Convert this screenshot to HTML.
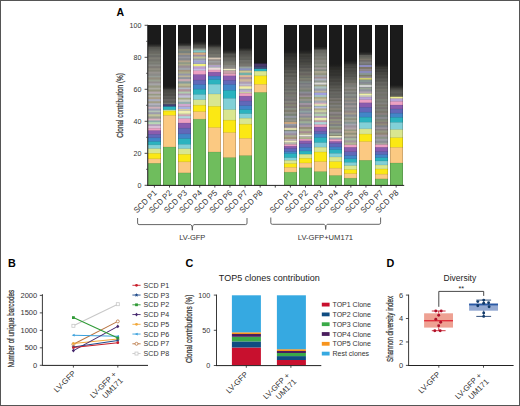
<!DOCTYPE html>
<html><head><meta charset="utf-8"><style>
html,body{margin:0;padding:0;background:#fff;}
body{width:520px;height:406px;overflow:hidden;}
svg{display:block;font-family:"Liberation Sans", sans-serif;}
</style></head><body>
<svg width="520" height="406" viewBox="0 0 520 406">
<defs><linearGradient id="fadeK" x1="0" y1="0" x2="0" y2="1"><stop offset="0" stop-color="#1b1b1b" stop-opacity="0.85"/><stop offset="1" stop-color="#1b1b1b" stop-opacity="0"/></linearGradient></defs>
<rect x="0" y="0" width="520" height="406" fill="#fff"/>
<g>
<rect x="0" y="0" width="520" height="406" fill="#fff"/>
<text x="116.5" y="16.3" font-size="10.5" text-anchor="start" fill="#000" font-weight="bold" >A</text>
<g>
<rect x="148.00" y="25.00" width="13" height="160.30" fill="#1b1b1b"/>
<rect x="148.00" y="44.10" width="13" height="141.20" fill="#3b3b37"/>
<rect x="148.00" y="45.59" width="13" height="139.71" fill="#444440"/>
<rect x="148.00" y="47.23" width="13" height="138.07" fill="#575752"/>
<rect x="148.00" y="48.96" width="13" height="136.34" fill="#5c5d57"/>
<rect x="148.00" y="50.50" width="13" height="134.80" fill="#676761"/>
<rect x="148.00" y="52.01" width="13" height="133.29" fill="#696861"/>
<rect x="148.00" y="53.70" width="13" height="131.60" fill="#76776f"/>
<rect x="148.00" y="55.16" width="13" height="130.14" fill="#6c6c68"/>
<rect x="148.00" y="57.23" width="13" height="128.07" fill="#7e7d75"/>
<rect x="148.00" y="59.35" width="13" height="125.95" fill="#74746d"/>
<rect x="148.00" y="61.39" width="13" height="123.91" fill="#7e8077"/>
<rect x="148.00" y="63.00" width="13" height="122.30" fill="#7a7b74"/>
<rect x="148.00" y="64.48" width="13" height="120.82" fill="#8b8b86"/>
<rect x="148.00" y="66.20" width="13" height="119.10" fill="#7e7a75"/>
<rect x="148.00" y="68.21" width="13" height="117.09" fill="#8f8c81"/>
<rect x="148.00" y="70.11" width="13" height="115.19" fill="#838377"/>
<rect x="148.00" y="71.58" width="13" height="113.72" fill="#97938f"/>
<rect x="148.00" y="73.58" width="13" height="111.72" fill="#8b8b88"/>
<rect x="148.00" y="75.81" width="13" height="109.49" fill="#959c96"/>
<rect x="148.00" y="77.35" width="13" height="107.95" fill="#928c7e"/>
<rect x="148.00" y="79.57" width="13" height="105.73" fill="#9aa293"/>
<rect x="148.00" y="81.52" width="13" height="103.78" fill="#948e8e"/>
<rect x="148.00" y="83.31" width="13" height="101.99" fill="#a6a6a8"/>
<rect x="148.00" y="85.43" width="13" height="99.87" fill="#959782"/>
<rect x="148.00" y="87.69" width="13" height="97.61" fill="#acaca3"/>
<rect x="148.00" y="89.56" width="13" height="95.74" fill="#94947d"/>
<rect x="148.00" y="91.58" width="13" height="93.72" fill="#b5a9ae"/>
<rect x="148.00" y="93.80" width="13" height="91.50" fill="#969981"/>
<rect x="148.00" y="95.43" width="13" height="89.87" fill="#b1b1a8"/>
<rect x="148.00" y="97.23" width="13" height="88.07" fill="#aa9c86"/>
<rect x="148.00" y="99.16" width="13" height="86.14" fill="#abaebe"/>
<rect x="148.00" y="101.25" width="13" height="84.05" fill="#a29d86"/>
<rect x="148.00" y="103.27" width="13" height="82.03" fill="#b2b2be"/>
<rect x="148.00" y="105.14" width="13" height="80.16" fill="#9a9da6"/>
<rect x="148.00" y="106.82" width="13" height="78.48" fill="#cfb0b8"/>
<rect x="148.00" y="108.65" width="13" height="76.65" fill="#999db2"/>
<rect x="148.00" y="110.58" width="13" height="74.72" fill="#b5c4b6"/>
<rect x="148.00" y="112.23" width="13" height="73.07" fill="#9c9cab"/>
<rect x="148.00" y="114.29" width="13" height="71.01" fill="#c0c49b"/>
<rect x="148.00" y="116.39" width="13" height="68.91" fill="#9e9e96"/>
<rect x="148.00" y="118.65" width="13" height="66.65" fill="#ddb4c2"/>
<rect x="148.00" y="120.47" width="13" height="64.83" fill="#8eabad"/>
<rect x="148.00" y="122.15" width="13" height="63.15" fill="#b9d7b6"/>
<rect x="148.00" y="124.23" width="13" height="61.07" fill="#b29cbb"/>
<rect x="148.00" y="125.94" width="13" height="59.36" fill="#d8bdd5"/>
<rect x="148.00" y="128.30" width="13" height="57.00" fill="#eda0c3"/>
<rect x="148.00" y="130.50" width="13" height="54.80" fill="#8a5cae"/>
<rect x="148.00" y="134.30" width="13" height="51.00" fill="#6168b9"/>
<rect x="148.00" y="137.80" width="13" height="47.50" fill="#4286c8"/>
<rect x="148.00" y="141.50" width="13" height="43.80" fill="#2bb3bf"/>
<rect x="148.00" y="144.80" width="13" height="40.50" fill="#82d0d7"/>
<rect x="148.00" y="148.60" width="13" height="36.70" fill="#d9e690"/>
<rect x="148.00" y="153.30" width="13" height="32.00" fill="#fbe814"/>
<rect x="148.00" y="158.80" width="13" height="26.50" fill="#fbc982"/>
<rect x="148.00" y="163.30" width="13" height="22.00" fill="#6fbd5d"/>
<rect x="148.00" y="43.90" width="13" height="3.2" fill="url(#fadeK)"/>
<rect x="148.00" y="163.00" width="13" height="0.6" fill="#000" fill-opacity="0.15"/>
<rect x="148.00" y="158.50" width="13" height="0.6" fill="#000" fill-opacity="0.15"/>
<rect x="148.00" y="153.00" width="13" height="0.6" fill="#000" fill-opacity="0.15"/>
<rect x="148.00" y="148.30" width="13" height="0.6" fill="#000" fill-opacity="0.15"/>
<rect x="148.00" y="144.50" width="13" height="0.6" fill="#000" fill-opacity="0.15"/>
<rect x="148.00" y="141.20" width="13" height="0.6" fill="#000" fill-opacity="0.15"/>
<rect x="148.00" y="137.50" width="13" height="0.6" fill="#000" fill-opacity="0.15"/>
<rect x="148.00" y="134.00" width="13" height="0.6" fill="#000" fill-opacity="0.15"/>
<rect x="148.00" y="130.20" width="13" height="0.6" fill="#000" fill-opacity="0.15"/>
<rect x="148.00" y="128.00" width="13" height="0.6" fill="#000" fill-opacity="0.15"/>
<rect x="148" y="25.00" width="1" height="160.30" fill="#000" fill-opacity="0.16"/>
<rect x="160" y="25.00" width="1" height="160.30" fill="#000" fill-opacity="0.16"/>
</g>
<g>
<rect x="163.00" y="25.00" width="13" height="160.30" fill="#1b1b1b"/>
<rect x="163.00" y="86.80" width="13" height="98.50" fill="#2e2e2b"/>
<rect x="163.00" y="87.86" width="13" height="97.44" fill="#343431"/>
<rect x="163.00" y="89.37" width="13" height="95.93" fill="#484743"/>
<rect x="163.00" y="90.61" width="13" height="94.69" fill="#4a4a45"/>
<rect x="163.00" y="92.50" width="13" height="92.80" fill="#51514c"/>
<rect x="163.00" y="94.16" width="13" height="91.14" fill="#4e4d48"/>
<rect x="163.00" y="95.84" width="13" height="89.46" fill="#5b5b57"/>
<rect x="163.00" y="97.49" width="13" height="87.81" fill="#555451"/>
<rect x="163.00" y="98.99" width="13" height="86.31" fill="#656360"/>
<rect x="163.00" y="101.00" width="13" height="84.30" fill="#5c5e58"/>
<rect x="163.00" y="102.78" width="13" height="82.52" fill="#707271"/>
<rect x="163.00" y="104.40" width="13" height="80.90" fill="#404078"/>
<rect x="163.00" y="106.50" width="13" height="78.80" fill="#2bb3bf"/>
<rect x="163.00" y="109.80" width="13" height="75.50" fill="#d9e690"/>
<rect x="163.00" y="111.00" width="13" height="74.30" fill="#fbe814"/>
<rect x="163.00" y="115.30" width="13" height="70.00" fill="#fbc982"/>
<rect x="163.00" y="147.00" width="13" height="38.30" fill="#6fbd5d"/>
<rect x="163.00" y="86.60" width="13" height="3.2" fill="url(#fadeK)"/>
<rect x="163.00" y="146.70" width="13" height="0.6" fill="#000" fill-opacity="0.15"/>
<rect x="163.00" y="115.00" width="13" height="0.6" fill="#000" fill-opacity="0.15"/>
<rect x="163.00" y="110.70" width="13" height="0.6" fill="#000" fill-opacity="0.15"/>
<rect x="163.00" y="109.50" width="13" height="0.6" fill="#000" fill-opacity="0.15"/>
<rect x="163.00" y="106.20" width="13" height="0.6" fill="#000" fill-opacity="0.15"/>
<rect x="163.00" y="104.10" width="13" height="0.6" fill="#000" fill-opacity="0.15"/>
<rect x="163" y="25.00" width="1" height="160.30" fill="#000" fill-opacity="0.16"/>
<rect x="175" y="25.00" width="1" height="160.30" fill="#000" fill-opacity="0.16"/>
</g>
<g>
<rect x="178.00" y="25.00" width="13" height="160.30" fill="#1b1b1b"/>
<rect x="178.00" y="43.50" width="13" height="141.80" fill="#42423e"/>
<rect x="178.00" y="44.88" width="13" height="140.42" fill="#4d4d49"/>
<rect x="178.00" y="46.08" width="13" height="139.22" fill="#60615c"/>
<rect x="178.00" y="47.44" width="13" height="137.86" fill="#706e6b"/>
<rect x="178.00" y="49.10" width="13" height="136.20" fill="#848577"/>
<rect x="178.00" y="50.99" width="13" height="134.31" fill="#77817d"/>
<rect x="178.00" y="53.12" width="13" height="132.18" fill="#9f9582"/>
<rect x="178.00" y="54.99" width="13" height="130.31" fill="#83858e"/>
<rect x="178.00" y="56.65" width="13" height="128.65" fill="#96969c"/>
<rect x="178.00" y="58.16" width="13" height="127.14" fill="#85878c"/>
<rect x="178.00" y="60.41" width="13" height="124.89" fill="#b3a38c"/>
<rect x="178.00" y="62.33" width="13" height="122.97" fill="#8b9886"/>
<rect x="178.00" y="63.86" width="13" height="121.44" fill="#a8a889"/>
<rect x="178.00" y="65.51" width="13" height="119.79" fill="#998d94"/>
<rect x="178.00" y="67.78" width="13" height="117.52" fill="#a0a3ab"/>
<rect x="178.00" y="69.93" width="13" height="115.37" fill="#a0917b"/>
<rect x="178.00" y="71.50" width="13" height="113.80" fill="#aaaa8a"/>
<rect x="178.00" y="73.60" width="13" height="111.70" fill="#9396a7"/>
<rect x="178.00" y="75.51" width="13" height="109.79" fill="#bbb398"/>
<rect x="178.00" y="77.15" width="13" height="108.15" fill="#90939c"/>
<rect x="178.00" y="79.08" width="13" height="106.22" fill="#c8aab2"/>
<rect x="178.00" y="81.35" width="13" height="103.95" fill="#869b9b"/>
<rect x="178.00" y="83.54" width="13" height="101.76" fill="#b9b993"/>
<rect x="178.00" y="85.77" width="13" height="99.53" fill="#a69e85"/>
<rect x="178.00" y="87.53" width="13" height="97.77" fill="#b3b8c6"/>
<rect x="178.00" y="89.21" width="13" height="96.09" fill="#b0939c"/>
<rect x="178.00" y="91.55" width="13" height="93.75" fill="#b3ccaf"/>
<rect x="178.00" y="93.51" width="13" height="91.79" fill="#ad9bb3"/>
<rect x="178.00" y="95.33" width="13" height="89.97" fill="#c1c1d6"/>
<rect x="178.00" y="97.72" width="13" height="87.58" fill="#a4a984"/>
<rect x="178.00" y="99.51" width="13" height="85.79" fill="#c9c9bf"/>
<rect x="178.00" y="101.77" width="13" height="83.53" fill="#91afb1"/>
<rect x="178.00" y="103.89" width="13" height="81.41" fill="#d0d09d"/>
<rect x="178.00" y="105.94" width="13" height="79.36" fill="#b19bb9"/>
<rect x="178.00" y="108.27" width="13" height="77.03" fill="#d4c8a1"/>
<rect x="178.00" y="110.45" width="13" height="74.85" fill="#a3a3ba"/>
<rect x="178.00" y="112.66" width="13" height="72.64" fill="#cfd5a1"/>
<rect x="178.00" y="114.42" width="13" height="70.88" fill="#cca1b1"/>
<rect x="178.00" y="116.23" width="13" height="69.07" fill="#add7dd"/>
<rect x="178.00" y="118.50" width="13" height="66.80" fill="#eda0c3"/>
<rect x="178.00" y="123.00" width="13" height="62.30" fill="#8a5cae"/>
<rect x="178.00" y="128.20" width="13" height="57.10" fill="#6168b9"/>
<rect x="178.00" y="133.90" width="13" height="51.40" fill="#4286c8"/>
<rect x="178.00" y="138.60" width="13" height="46.70" fill="#2bb3bf"/>
<rect x="178.00" y="144.30" width="13" height="41.00" fill="#82d0d7"/>
<rect x="178.00" y="148.70" width="13" height="36.60" fill="#d9e690"/>
<rect x="178.00" y="154.30" width="13" height="31.00" fill="#fbe814"/>
<rect x="178.00" y="161.80" width="13" height="23.50" fill="#fbc982"/>
<rect x="178.00" y="172.90" width="13" height="12.40" fill="#6fbd5d"/>
<rect x="178.00" y="110.75" width="13" height="2.50" fill="#f0f0b0"/>
<rect x="178.00" y="104.00" width="13" height="2.00" fill="#d0a8d0"/>
<rect x="178.00" y="107.00" width="13" height="2.00" fill="#a8b0e0"/>
<rect x="178.00" y="43.30" width="13" height="3.2" fill="url(#fadeK)"/>
<rect x="178.00" y="172.60" width="13" height="0.6" fill="#000" fill-opacity="0.15"/>
<rect x="178.00" y="161.50" width="13" height="0.6" fill="#000" fill-opacity="0.15"/>
<rect x="178.00" y="154.00" width="13" height="0.6" fill="#000" fill-opacity="0.15"/>
<rect x="178.00" y="148.40" width="13" height="0.6" fill="#000" fill-opacity="0.15"/>
<rect x="178.00" y="144.00" width="13" height="0.6" fill="#000" fill-opacity="0.15"/>
<rect x="178.00" y="138.30" width="13" height="0.6" fill="#000" fill-opacity="0.15"/>
<rect x="178.00" y="133.60" width="13" height="0.6" fill="#000" fill-opacity="0.15"/>
<rect x="178.00" y="127.90" width="13" height="0.6" fill="#000" fill-opacity="0.15"/>
<rect x="178.00" y="122.70" width="13" height="0.6" fill="#000" fill-opacity="0.15"/>
<rect x="178.00" y="118.20" width="13" height="0.6" fill="#000" fill-opacity="0.15"/>
<rect x="178" y="25.00" width="1" height="160.30" fill="#000" fill-opacity="0.16"/>
<rect x="190" y="25.00" width="1" height="160.30" fill="#000" fill-opacity="0.16"/>
</g>
<g>
<rect x="193.00" y="25.00" width="13" height="160.30" fill="#1b1b1b"/>
<rect x="193.00" y="41.80" width="13" height="143.50" fill="#383835"/>
<rect x="193.00" y="43.30" width="13" height="142.00" fill="#3e3e3a"/>
<rect x="193.00" y="44.74" width="13" height="140.56" fill="#4f4f4a"/>
<rect x="193.00" y="46.57" width="13" height="138.73" fill="#5e5e59"/>
<rect x="193.00" y="48.53" width="13" height="136.77" fill="#949b91"/>
<rect x="193.00" y="50.68" width="13" height="134.62" fill="#8d8d86"/>
<rect x="193.00" y="52.60" width="13" height="132.70" fill="#a1b59d"/>
<rect x="193.00" y="54.50" width="13" height="130.80" fill="#9d8da2"/>
<rect x="193.00" y="56.54" width="13" height="128.76" fill="#bbc098"/>
<rect x="193.00" y="58.48" width="13" height="126.82" fill="#979ba9"/>
<rect x="193.00" y="60.46" width="13" height="124.84" fill="#b6d3b3"/>
<rect x="193.00" y="62.32" width="13" height="122.98" fill="#999ebc"/>
<rect x="193.00" y="64.63" width="13" height="120.67" fill="#d8bce3"/>
<rect x="193.00" y="66.68" width="13" height="118.62" fill="#a8ad83"/>
<rect x="193.00" y="68.74" width="13" height="116.56" fill="#c9d0ea"/>
<rect x="193.00" y="70.50" width="13" height="114.80" fill="#eda0c3"/>
<rect x="193.00" y="74.50" width="13" height="110.80" fill="#8a5cae"/>
<rect x="193.00" y="80.10" width="13" height="105.20" fill="#6168b9"/>
<rect x="193.00" y="84.50" width="13" height="100.80" fill="#4286c8"/>
<rect x="193.00" y="89.20" width="13" height="96.10" fill="#2bb3bf"/>
<rect x="193.00" y="94.40" width="13" height="90.90" fill="#82d0d7"/>
<rect x="193.00" y="99.70" width="13" height="85.60" fill="#d9e690"/>
<rect x="193.00" y="105.20" width="13" height="80.10" fill="#fbe814"/>
<rect x="193.00" y="111.60" width="13" height="73.70" fill="#fbc982"/>
<rect x="193.00" y="119.20" width="13" height="66.10" fill="#6fbd5d"/>
<rect x="193.00" y="64.00" width="13" height="2.00" fill="#f0f080"/>
<rect x="193.00" y="67.20" width="13" height="2.20" fill="#c0a0d8"/>
<rect x="193.00" y="60.50" width="13" height="2.00" fill="#a0a0d8"/>
<rect x="193.00" y="52.90" width="13" height="1.80" fill="#d8a880"/>
<rect x="193.00" y="50.40" width="13" height="1.80" fill="#80c8c8"/>
<rect x="193.00" y="41.60" width="13" height="3.2" fill="url(#fadeK)"/>
<rect x="193.00" y="118.90" width="13" height="0.6" fill="#000" fill-opacity="0.15"/>
<rect x="193.00" y="111.30" width="13" height="0.6" fill="#000" fill-opacity="0.15"/>
<rect x="193.00" y="104.90" width="13" height="0.6" fill="#000" fill-opacity="0.15"/>
<rect x="193.00" y="99.40" width="13" height="0.6" fill="#000" fill-opacity="0.15"/>
<rect x="193.00" y="94.10" width="13" height="0.6" fill="#000" fill-opacity="0.15"/>
<rect x="193.00" y="88.90" width="13" height="0.6" fill="#000" fill-opacity="0.15"/>
<rect x="193.00" y="84.20" width="13" height="0.6" fill="#000" fill-opacity="0.15"/>
<rect x="193.00" y="79.80" width="13" height="0.6" fill="#000" fill-opacity="0.15"/>
<rect x="193.00" y="74.20" width="13" height="0.6" fill="#000" fill-opacity="0.15"/>
<rect x="193.00" y="70.20" width="13" height="0.6" fill="#000" fill-opacity="0.15"/>
<rect x="193" y="25.00" width="1" height="160.30" fill="#000" fill-opacity="0.16"/>
<rect x="205" y="25.00" width="1" height="160.30" fill="#000" fill-opacity="0.16"/>
</g>
<g>
<rect x="208.00" y="25.00" width="13" height="160.30" fill="#1b1b1b"/>
<rect x="208.00" y="44.70" width="13" height="140.60" fill="#41413d"/>
<rect x="208.00" y="45.69" width="13" height="139.61" fill="#494944"/>
<rect x="208.00" y="47.50" width="13" height="137.80" fill="#595953"/>
<rect x="208.00" y="48.94" width="13" height="136.36" fill="#5e5f59"/>
<rect x="208.00" y="50.40" width="13" height="134.90" fill="#686861"/>
<rect x="208.00" y="52.43" width="13" height="132.87" fill="#676762"/>
<rect x="208.00" y="54.15" width="13" height="131.15" fill="#77776f"/>
<rect x="208.00" y="55.80" width="13" height="129.50" fill="#71716c"/>
<rect x="208.00" y="57.42" width="13" height="127.88" fill="#898a7f"/>
<rect x="208.00" y="59.08" width="13" height="126.22" fill="#928b87"/>
<rect x="208.00" y="60.89" width="13" height="124.41" fill="#9d9f9f"/>
<rect x="208.00" y="62.54" width="13" height="122.76" fill="#958f8e"/>
<rect x="208.00" y="64.75" width="13" height="120.55" fill="#b3b59e"/>
<rect x="208.00" y="66.50" width="13" height="118.80" fill="#a4b5b1"/>
<rect x="208.00" y="68.26" width="13" height="117.04" fill="#d4d4b5"/>
<rect x="208.00" y="70.00" width="13" height="115.30" fill="#eda0c3"/>
<rect x="208.00" y="72.10" width="13" height="113.20" fill="#8a5cae"/>
<rect x="208.00" y="76.10" width="13" height="109.20" fill="#4286c8"/>
<rect x="208.00" y="79.50" width="13" height="105.80" fill="#2bb3bf"/>
<rect x="208.00" y="84.20" width="13" height="101.10" fill="#82d0d7"/>
<rect x="208.00" y="94.00" width="13" height="91.30" fill="#d9e690"/>
<rect x="208.00" y="106.30" width="13" height="79.00" fill="#fbe814"/>
<rect x="208.00" y="127.50" width="13" height="57.80" fill="#fbc982"/>
<rect x="208.00" y="152.00" width="13" height="33.30" fill="#6fbd5d"/>
<rect x="208.00" y="67.70" width="13" height="2.20" fill="#f0d8dc"/>
<rect x="208.00" y="57.70" width="13" height="1.60" fill="#d8c8b8"/>
<rect x="208.00" y="65.10" width="13" height="1.80" fill="#b0a0c8"/>
<rect x="208.00" y="44.50" width="13" height="3.2" fill="url(#fadeK)"/>
<rect x="208.00" y="151.70" width="13" height="0.6" fill="#000" fill-opacity="0.15"/>
<rect x="208.00" y="127.20" width="13" height="0.6" fill="#000" fill-opacity="0.15"/>
<rect x="208.00" y="106.00" width="13" height="0.6" fill="#000" fill-opacity="0.15"/>
<rect x="208.00" y="93.70" width="13" height="0.6" fill="#000" fill-opacity="0.15"/>
<rect x="208.00" y="83.90" width="13" height="0.6" fill="#000" fill-opacity="0.15"/>
<rect x="208.00" y="79.20" width="13" height="0.6" fill="#000" fill-opacity="0.15"/>
<rect x="208.00" y="75.80" width="13" height="0.6" fill="#000" fill-opacity="0.15"/>
<rect x="208.00" y="71.80" width="13" height="0.6" fill="#000" fill-opacity="0.15"/>
<rect x="208.00" y="69.70" width="13" height="0.6" fill="#000" fill-opacity="0.15"/>
<rect x="208" y="25.00" width="1" height="160.30" fill="#000" fill-opacity="0.16"/>
<rect x="220" y="25.00" width="1" height="160.30" fill="#000" fill-opacity="0.16"/>
</g>
<g>
<rect x="223.00" y="25.00" width="13" height="160.30" fill="#1b1b1b"/>
<rect x="223.00" y="50.60" width="13" height="134.70" fill="#3b3b37"/>
<rect x="223.00" y="52.56" width="13" height="132.74" fill="#40403c"/>
<rect x="223.00" y="53.75" width="13" height="131.55" fill="#54544f"/>
<rect x="223.00" y="55.64" width="13" height="129.66" fill="#51514c"/>
<rect x="223.00" y="57.33" width="13" height="127.97" fill="#64635d"/>
<rect x="223.00" y="59.36" width="13" height="125.94" fill="#666661"/>
<rect x="223.00" y="61.32" width="13" height="123.98" fill="#75766e"/>
<rect x="223.00" y="63.14" width="13" height="122.16" fill="#7b7a71"/>
<rect x="223.00" y="65.01" width="13" height="120.29" fill="#888883"/>
<rect x="223.00" y="67.13" width="13" height="118.17" fill="#938d88"/>
<rect x="223.00" y="68.67" width="13" height="116.63" fill="#a1a899"/>
<rect x="223.00" y="70.60" width="13" height="114.70" fill="#c8a0a8"/>
<rect x="223.00" y="73.90" width="13" height="111.40" fill="#eda0c3"/>
<rect x="223.00" y="75.80" width="13" height="109.50" fill="#8a5cae"/>
<rect x="223.00" y="80.30" width="13" height="105.00" fill="#6168b9"/>
<rect x="223.00" y="84.50" width="13" height="100.80" fill="#4286c8"/>
<rect x="223.00" y="90.30" width="13" height="95.00" fill="#2bb3bf"/>
<rect x="223.00" y="98.30" width="13" height="87.00" fill="#82d0d7"/>
<rect x="223.00" y="109.60" width="13" height="75.70" fill="#d9e690"/>
<rect x="223.00" y="120.20" width="13" height="65.10" fill="#fbe814"/>
<rect x="223.00" y="132.50" width="13" height="52.80" fill="#fbc982"/>
<rect x="223.00" y="157.60" width="13" height="27.70" fill="#6fbd5d"/>
<rect x="223.00" y="68.90" width="13" height="1.40" fill="#f0ecc8"/>
<rect x="223.00" y="50.40" width="13" height="3.2" fill="url(#fadeK)"/>
<rect x="223.00" y="157.30" width="13" height="0.6" fill="#000" fill-opacity="0.15"/>
<rect x="223.00" y="132.20" width="13" height="0.6" fill="#000" fill-opacity="0.15"/>
<rect x="223.00" y="119.90" width="13" height="0.6" fill="#000" fill-opacity="0.15"/>
<rect x="223.00" y="109.30" width="13" height="0.6" fill="#000" fill-opacity="0.15"/>
<rect x="223.00" y="98.00" width="13" height="0.6" fill="#000" fill-opacity="0.15"/>
<rect x="223.00" y="90.00" width="13" height="0.6" fill="#000" fill-opacity="0.15"/>
<rect x="223.00" y="84.20" width="13" height="0.6" fill="#000" fill-opacity="0.15"/>
<rect x="223.00" y="80.00" width="13" height="0.6" fill="#000" fill-opacity="0.15"/>
<rect x="223.00" y="75.50" width="13" height="0.6" fill="#000" fill-opacity="0.15"/>
<rect x="223.00" y="73.60" width="13" height="0.6" fill="#000" fill-opacity="0.15"/>
<rect x="223.00" y="70.30" width="13" height="0.6" fill="#000" fill-opacity="0.15"/>
<rect x="223" y="25.00" width="1" height="160.30" fill="#000" fill-opacity="0.16"/>
<rect x="235" y="25.00" width="1" height="160.30" fill="#000" fill-opacity="0.16"/>
</g>
<g>
<rect x="239.00" y="25.00" width="13" height="160.30" fill="#1b1b1b"/>
<rect x="239.00" y="48.20" width="13" height="137.10" fill="#3b3b37"/>
<rect x="239.00" y="49.43" width="13" height="135.87" fill="#40403c"/>
<rect x="239.00" y="51.30" width="13" height="134.00" fill="#4a4a46"/>
<rect x="239.00" y="52.68" width="13" height="132.62" fill="#4d4c48"/>
<rect x="239.00" y="54.32" width="13" height="130.98" fill="#565651"/>
<rect x="239.00" y="55.74" width="13" height="129.56" fill="#5a5a54"/>
<rect x="239.00" y="57.17" width="13" height="128.13" fill="#62625c"/>
<rect x="239.00" y="58.50" width="13" height="126.80" fill="#5d5e58"/>
<rect x="239.00" y="60.06" width="13" height="125.24" fill="#70706b"/>
<rect x="239.00" y="61.40" width="13" height="123.90" fill="#6b6a65"/>
<rect x="239.00" y="63.46" width="13" height="121.84" fill="#767670"/>
<rect x="239.00" y="64.82" width="13" height="120.48" fill="#787570"/>
<rect x="239.00" y="66.58" width="13" height="118.72" fill="#96a29e"/>
<rect x="239.00" y="68.54" width="13" height="116.76" fill="#9e9e80"/>
<rect x="239.00" y="70.79" width="13" height="114.51" fill="#a9b6a9"/>
<rect x="239.00" y="72.71" width="13" height="112.59" fill="#999c7f"/>
<rect x="239.00" y="74.95" width="13" height="110.35" fill="#b3b7c3"/>
<rect x="239.00" y="76.87" width="13" height="108.43" fill="#b1969d"/>
<rect x="239.00" y="79.23" width="13" height="106.07" fill="#ceb899"/>
<rect x="239.00" y="81.60" width="13" height="103.70" fill="#ae9db2"/>
<rect x="239.00" y="83.73" width="13" height="101.57" fill="#bfbfd0"/>
<rect x="239.00" y="85.56" width="13" height="99.74" fill="#b698a1"/>
<rect x="239.00" y="87.63" width="13" height="97.67" fill="#b8bdda"/>
<rect x="239.00" y="89.31" width="13" height="95.99" fill="#9aa79b"/>
<rect x="239.00" y="91.22" width="13" height="94.08" fill="#cbd1a3"/>
<rect x="239.00" y="93.20" width="13" height="92.10" fill="#eda0c3"/>
<rect x="239.00" y="96.10" width="13" height="89.20" fill="#8a5cae"/>
<rect x="239.00" y="101.00" width="13" height="84.30" fill="#6168b9"/>
<rect x="239.00" y="105.60" width="13" height="79.70" fill="#4286c8"/>
<rect x="239.00" y="109.60" width="13" height="75.70" fill="#2bb3bf"/>
<rect x="239.00" y="113.60" width="13" height="71.70" fill="#82d0d7"/>
<rect x="239.00" y="118.20" width="13" height="67.10" fill="#d9e690"/>
<rect x="239.00" y="124.20" width="13" height="61.10" fill="#fbe814"/>
<rect x="239.00" y="138.30" width="13" height="47.00" fill="#fbc982"/>
<rect x="239.00" y="155.60" width="13" height="29.70" fill="#6fbd5d"/>
<rect x="239.00" y="68.30" width="13" height="2.00" fill="#8890c0"/>
<rect x="239.00" y="70.85" width="13" height="1.50" fill="#d0c890"/>
<rect x="239.00" y="73.00" width="13" height="2.00" fill="#70b0a8"/>
<rect x="239.00" y="75.40" width="13" height="1.60" fill="#e0b890"/>
<rect x="239.00" y="86.30" width="13" height="2.40" fill="#f0f0a0"/>
<rect x="239.00" y="90.20" width="13" height="1.60" fill="#c0b0d8"/>
<rect x="239.00" y="48.00" width="13" height="3.2" fill="url(#fadeK)"/>
<rect x="239.00" y="155.30" width="13" height="0.6" fill="#000" fill-opacity="0.15"/>
<rect x="239.00" y="138.00" width="13" height="0.6" fill="#000" fill-opacity="0.15"/>
<rect x="239.00" y="123.90" width="13" height="0.6" fill="#000" fill-opacity="0.15"/>
<rect x="239.00" y="117.90" width="13" height="0.6" fill="#000" fill-opacity="0.15"/>
<rect x="239.00" y="113.30" width="13" height="0.6" fill="#000" fill-opacity="0.15"/>
<rect x="239.00" y="109.30" width="13" height="0.6" fill="#000" fill-opacity="0.15"/>
<rect x="239.00" y="105.30" width="13" height="0.6" fill="#000" fill-opacity="0.15"/>
<rect x="239.00" y="100.70" width="13" height="0.6" fill="#000" fill-opacity="0.15"/>
<rect x="239.00" y="95.80" width="13" height="0.6" fill="#000" fill-opacity="0.15"/>
<rect x="239.00" y="92.90" width="13" height="0.6" fill="#000" fill-opacity="0.15"/>
<rect x="239" y="25.00" width="1" height="160.30" fill="#000" fill-opacity="0.16"/>
<rect x="251" y="25.00" width="1" height="160.30" fill="#000" fill-opacity="0.16"/>
</g>
<g>
<rect x="254.00" y="25.00" width="13" height="160.30" fill="#1b1b1b"/>
<rect x="254.00" y="63.50" width="13" height="121.80" fill="#483868"/>
<rect x="254.00" y="66.40" width="13" height="118.90" fill="#404878"/>
<rect x="254.00" y="68.80" width="13" height="116.50" fill="#2bb3bf"/>
<rect x="254.00" y="71.10" width="13" height="114.20" fill="#d9e690"/>
<rect x="254.00" y="75.80" width="13" height="109.50" fill="#fbe814"/>
<rect x="254.00" y="84.30" width="13" height="101.00" fill="#fbc982"/>
<rect x="254.00" y="92.40" width="13" height="92.90" fill="#6fbd5d"/>
<rect x="254.00" y="92.10" width="13" height="0.6" fill="#000" fill-opacity="0.15"/>
<rect x="254.00" y="84.00" width="13" height="0.6" fill="#000" fill-opacity="0.15"/>
<rect x="254.00" y="75.50" width="13" height="0.6" fill="#000" fill-opacity="0.15"/>
<rect x="254.00" y="70.80" width="13" height="0.6" fill="#000" fill-opacity="0.15"/>
<rect x="254.00" y="68.50" width="13" height="0.6" fill="#000" fill-opacity="0.15"/>
<rect x="254.00" y="66.10" width="13" height="0.6" fill="#000" fill-opacity="0.15"/>
<rect x="254.00" y="63.20" width="13" height="0.6" fill="#000" fill-opacity="0.15"/>
<rect x="254" y="25.00" width="1" height="160.30" fill="#000" fill-opacity="0.16"/>
<rect x="266" y="25.00" width="1" height="160.30" fill="#000" fill-opacity="0.16"/>
</g>
<g>
<rect x="284.00" y="25.00" width="13" height="160.30" fill="#1b1b1b"/>
<rect x="284.00" y="51.20" width="13" height="134.10" fill="#252523"/>
<rect x="284.00" y="52.06" width="13" height="133.24" fill="#252523"/>
<rect x="284.00" y="53.30" width="13" height="132.00" fill="#2f2f2c"/>
<rect x="284.00" y="54.82" width="13" height="130.48" fill="#2d2d2b"/>
<rect x="284.00" y="56.53" width="13" height="128.77" fill="#353532"/>
<rect x="284.00" y="58.38" width="13" height="126.92" fill="#373734"/>
<rect x="284.00" y="59.94" width="13" height="125.36" fill="#40403c"/>
<rect x="284.00" y="61.70" width="13" height="123.60" fill="#3e3e3b"/>
<rect x="284.00" y="63.44" width="13" height="121.86" fill="#474743"/>
<rect x="284.00" y="64.92" width="13" height="120.38" fill="#43433f"/>
<rect x="284.00" y="66.55" width="13" height="118.75" fill="#4b4b47"/>
<rect x="284.00" y="67.94" width="13" height="117.36" fill="#4e4d49"/>
<rect x="284.00" y="69.82" width="13" height="115.48" fill="#575751"/>
<rect x="284.00" y="71.78" width="13" height="113.52" fill="#50504b"/>
<rect x="284.00" y="73.20" width="13" height="112.10" fill="#61615a"/>
<rect x="284.00" y="74.98" width="13" height="110.32" fill="#585852"/>
<rect x="284.00" y="76.87" width="13" height="108.43" fill="#63635e"/>
<rect x="284.00" y="78.78" width="13" height="106.52" fill="#62625c"/>
<rect x="284.00" y="80.39" width="13" height="104.91" fill="#6c6c68"/>
<rect x="284.00" y="82.21" width="13" height="103.09" fill="#65635e"/>
<rect x="284.00" y="83.83" width="13" height="101.47" fill="#6f6f66"/>
<rect x="284.00" y="85.68" width="13" height="99.62" fill="#696966"/>
<rect x="284.00" y="87.63" width="13" height="97.67" fill="#73736f"/>
<rect x="284.00" y="89.16" width="13" height="96.14" fill="#676964"/>
<rect x="284.00" y="90.56" width="13" height="94.74" fill="#797c73"/>
<rect x="284.00" y="92.21" width="13" height="93.09" fill="#706d6b"/>
<rect x="284.00" y="94.29" width="13" height="91.01" fill="#7b7b70"/>
<rect x="284.00" y="95.67" width="13" height="89.63" fill="#737772"/>
<rect x="284.00" y="97.19" width="13" height="88.11" fill="#7c7978"/>
<rect x="284.00" y="98.92" width="13" height="86.38" fill="#727271"/>
<rect x="284.00" y="100.84" width="13" height="84.46" fill="#85857d"/>
<rect x="284.00" y="102.76" width="13" height="82.54" fill="#7b7371"/>
<rect x="284.00" y="104.22" width="13" height="81.08" fill="#858575"/>
<rect x="284.00" y="106.10" width="13" height="79.20" fill="#7d7878"/>
<rect x="284.00" y="107.98" width="13" height="77.32" fill="#8a9086"/>
<rect x="284.00" y="109.88" width="13" height="75.42" fill="#807d6f"/>
<rect x="284.00" y="112.00" width="13" height="73.30" fill="#8f8f88"/>
<rect x="284.00" y="113.82" width="13" height="71.48" fill="#798274"/>
<rect x="284.00" y="115.83" width="13" height="69.47" fill="#9497a0"/>
<rect x="284.00" y="117.90" width="13" height="67.40" fill="#828980"/>
<rect x="284.00" y="119.43" width="13" height="65.87" fill="#94948c"/>
<rect x="284.00" y="121.58" width="13" height="63.72" fill="#85856e"/>
<rect x="284.00" y="123.41" width="13" height="61.89" fill="#989ba8"/>
<rect x="284.00" y="125.42" width="13" height="59.88" fill="#8a8a92"/>
<rect x="284.00" y="127.35" width="13" height="57.95" fill="#af989d"/>
<rect x="284.00" y="129.58" width="13" height="55.72" fill="#818e7c"/>
<rect x="284.00" y="131.17" width="13" height="54.13" fill="#a1a5b6"/>
<rect x="284.00" y="133.32" width="13" height="51.98" fill="#9b8e9d"/>
<rect x="284.00" y="135.29" width="13" height="50.01" fill="#aaad8e"/>
<rect x="284.00" y="136.94" width="13" height="48.36" fill="#a3937c"/>
<rect x="284.00" y="138.97" width="13" height="46.33" fill="#baaab5"/>
<rect x="284.00" y="140.57" width="13" height="44.73" fill="#9f9982"/>
<rect x="284.00" y="142.25" width="13" height="43.05" fill="#b3b3aa"/>
<rect x="284.00" y="144.40" width="13" height="40.90" fill="#eda0c3"/>
<rect x="284.00" y="146.20" width="13" height="39.10" fill="#8a5cae"/>
<rect x="284.00" y="148.50" width="13" height="36.80" fill="#6168b9"/>
<rect x="284.00" y="151.50" width="13" height="33.80" fill="#4286c8"/>
<rect x="284.00" y="153.50" width="13" height="31.80" fill="#2bb3bf"/>
<rect x="284.00" y="157.60" width="13" height="27.70" fill="#82d0d7"/>
<rect x="284.00" y="160.30" width="13" height="25.00" fill="#d9e690"/>
<rect x="284.00" y="163.60" width="13" height="21.70" fill="#fbe814"/>
<rect x="284.00" y="167.30" width="13" height="18.00" fill="#fbc982"/>
<rect x="284.00" y="172.20" width="13" height="13.10" fill="#6fbd5d"/>
<rect x="284.00" y="140.70" width="13" height="1.60" fill="#ecebc0"/>
<rect x="284.00" y="128.20" width="13" height="1.60" fill="#e8e8b0"/>
<rect x="284.00" y="122.10" width="13" height="1.80" fill="#d0a880"/>
<rect x="284.00" y="51.00" width="13" height="3.2" fill="url(#fadeK)"/>
<rect x="284.00" y="171.90" width="13" height="0.6" fill="#000" fill-opacity="0.15"/>
<rect x="284.00" y="167.00" width="13" height="0.6" fill="#000" fill-opacity="0.15"/>
<rect x="284.00" y="163.30" width="13" height="0.6" fill="#000" fill-opacity="0.15"/>
<rect x="284.00" y="160.00" width="13" height="0.6" fill="#000" fill-opacity="0.15"/>
<rect x="284.00" y="157.30" width="13" height="0.6" fill="#000" fill-opacity="0.15"/>
<rect x="284.00" y="153.20" width="13" height="0.6" fill="#000" fill-opacity="0.15"/>
<rect x="284.00" y="151.20" width="13" height="0.6" fill="#000" fill-opacity="0.15"/>
<rect x="284.00" y="148.20" width="13" height="0.6" fill="#000" fill-opacity="0.15"/>
<rect x="284.00" y="145.90" width="13" height="0.6" fill="#000" fill-opacity="0.15"/>
<rect x="284.00" y="144.10" width="13" height="0.6" fill="#000" fill-opacity="0.15"/>
<rect x="284" y="25.00" width="1" height="160.30" fill="#000" fill-opacity="0.16"/>
<rect x="296" y="25.00" width="1" height="160.30" fill="#000" fill-opacity="0.16"/>
</g>
<g>
<rect x="299.00" y="25.00" width="13" height="160.30" fill="#1b1b1b"/>
<rect x="299.00" y="50.60" width="13" height="134.70" fill="#2c2c2a"/>
<rect x="299.00" y="52.35" width="13" height="132.95" fill="#2d2d2a"/>
<rect x="299.00" y="53.75" width="13" height="131.55" fill="#3b3b37"/>
<rect x="299.00" y="55.45" width="13" height="129.85" fill="#393935"/>
<rect x="299.00" y="56.94" width="13" height="128.36" fill="#3e3e3a"/>
<rect x="299.00" y="58.13" width="13" height="127.17" fill="#3e3e3b"/>
<rect x="299.00" y="59.29" width="13" height="126.01" fill="#454541"/>
<rect x="299.00" y="60.55" width="13" height="124.75" fill="#40403d"/>
<rect x="299.00" y="62.39" width="13" height="122.91" fill="#4a4a45"/>
<rect x="299.00" y="63.69" width="13" height="121.61" fill="#4b4a46"/>
<rect x="299.00" y="64.95" width="13" height="120.35" fill="#52524d"/>
<rect x="299.00" y="66.32" width="13" height="118.98" fill="#50504d"/>
<rect x="299.00" y="67.91" width="13" height="117.39" fill="#605f5a"/>
<rect x="299.00" y="69.71" width="13" height="115.59" fill="#5a5a57"/>
<rect x="299.00" y="71.50" width="13" height="113.80" fill="#6d6d66"/>
<rect x="299.00" y="73.32" width="13" height="111.98" fill="#686360"/>
<rect x="299.00" y="75.34" width="13" height="109.96" fill="#757568"/>
<rect x="299.00" y="76.74" width="13" height="108.56" fill="#6a6e67"/>
<rect x="299.00" y="78.15" width="13" height="107.15" fill="#808171"/>
<rect x="299.00" y="79.55" width="13" height="105.75" fill="#74746d"/>
<rect x="299.00" y="81.31" width="13" height="103.99" fill="#7d8783"/>
<rect x="299.00" y="82.93" width="13" height="102.37" fill="#76787e"/>
<rect x="299.00" y="84.34" width="13" height="100.96" fill="#858588"/>
<rect x="299.00" y="86.05" width="13" height="99.25" fill="#7c7e80"/>
<rect x="299.00" y="87.70" width="13" height="97.60" fill="#888881"/>
<rect x="299.00" y="89.65" width="13" height="95.65" fill="#778173"/>
<rect x="299.00" y="91.56" width="13" height="93.74" fill="#8a8c96"/>
<rect x="299.00" y="93.49" width="13" height="91.81" fill="#817881"/>
<rect x="299.00" y="95.52" width="13" height="89.78" fill="#9b9196"/>
<rect x="299.00" y="97.04" width="13" height="88.26" fill="#838670"/>
<rect x="299.00" y="98.90" width="13" height="86.40" fill="#93938b"/>
<rect x="299.00" y="100.95" width="13" height="84.35" fill="#7d8c8b"/>
<rect x="299.00" y="103.07" width="13" height="82.23" fill="#a396a5"/>
<rect x="299.00" y="104.84" width="13" height="80.46" fill="#8b8187"/>
<rect x="299.00" y="107.05" width="13" height="78.25" fill="#9a9d82"/>
<rect x="299.00" y="108.63" width="13" height="76.67" fill="#888a91"/>
<rect x="299.00" y="110.76" width="13" height="74.54" fill="#8ea2a0"/>
<rect x="299.00" y="112.56" width="13" height="72.74" fill="#888b9b"/>
<rect x="299.00" y="114.13" width="13" height="71.17" fill="#a799a3"/>
<rect x="299.00" y="115.73" width="13" height="69.57" fill="#898993"/>
<rect x="299.00" y="117.61" width="13" height="67.69" fill="#a0a386"/>
<rect x="299.00" y="119.41" width="13" height="65.89" fill="#8f8f87"/>
<rect x="299.00" y="121.22" width="13" height="64.08" fill="#9cae97"/>
<rect x="299.00" y="123.41" width="13" height="61.89" fill="#8c90a2"/>
<rect x="299.00" y="125.21" width="13" height="60.09" fill="#ac9ca7"/>
<rect x="299.00" y="127.01" width="13" height="58.29" fill="#948e78"/>
<rect x="299.00" y="128.96" width="13" height="56.34" fill="#abae8d"/>
<rect x="299.00" y="131.26" width="13" height="54.04" fill="#a48a91"/>
<rect x="299.00" y="133.23" width="13" height="52.07" fill="#b2b28c"/>
<rect x="299.00" y="134.86" width="13" height="50.44" fill="#9a8b9e"/>
<rect x="299.00" y="136.93" width="13" height="48.37" fill="#b0b490"/>
<rect x="299.00" y="139.00" width="13" height="46.30" fill="#eda0c3"/>
<rect x="299.00" y="140.80" width="13" height="44.50" fill="#8a5cae"/>
<rect x="299.00" y="143.70" width="13" height="41.60" fill="#6168b9"/>
<rect x="299.00" y="147.40" width="13" height="37.90" fill="#4286c8"/>
<rect x="299.00" y="151.00" width="13" height="34.30" fill="#2bb3bf"/>
<rect x="299.00" y="154.20" width="13" height="31.10" fill="#d9e690"/>
<rect x="299.00" y="158.30" width="13" height="27.00" fill="#fbe814"/>
<rect x="299.00" y="163.00" width="13" height="22.30" fill="#fbc982"/>
<rect x="299.00" y="167.80" width="13" height="17.50" fill="#6fbd5d"/>
<rect x="299.00" y="134.85" width="13" height="1.50" fill="#ecebd8"/>
<rect x="299.00" y="50.40" width="13" height="3.2" fill="url(#fadeK)"/>
<rect x="299.00" y="167.50" width="13" height="0.6" fill="#000" fill-opacity="0.15"/>
<rect x="299.00" y="162.70" width="13" height="0.6" fill="#000" fill-opacity="0.15"/>
<rect x="299.00" y="158.00" width="13" height="0.6" fill="#000" fill-opacity="0.15"/>
<rect x="299.00" y="153.90" width="13" height="0.6" fill="#000" fill-opacity="0.15"/>
<rect x="299.00" y="150.70" width="13" height="0.6" fill="#000" fill-opacity="0.15"/>
<rect x="299.00" y="147.10" width="13" height="0.6" fill="#000" fill-opacity="0.15"/>
<rect x="299.00" y="143.40" width="13" height="0.6" fill="#000" fill-opacity="0.15"/>
<rect x="299.00" y="140.50" width="13" height="0.6" fill="#000" fill-opacity="0.15"/>
<rect x="299.00" y="138.70" width="13" height="0.6" fill="#000" fill-opacity="0.15"/>
<rect x="299" y="25.00" width="1" height="160.30" fill="#000" fill-opacity="0.16"/>
<rect x="311" y="25.00" width="1" height="160.30" fill="#000" fill-opacity="0.16"/>
</g>
<g>
<rect x="314.00" y="25.00" width="13" height="160.30" fill="#1b1b1b"/>
<rect x="314.00" y="47.00" width="13" height="138.30" fill="#3d3d39"/>
<rect x="314.00" y="49.49" width="13" height="135.81" fill="#666660"/>
<rect x="314.00" y="51.27" width="13" height="134.03" fill="#6b6b65"/>
<rect x="314.00" y="53.36" width="13" height="131.94" fill="#75766f"/>
<rect x="314.00" y="54.86" width="13" height="130.44" fill="#74746d"/>
<rect x="314.00" y="56.43" width="13" height="128.87" fill="#80817a"/>
<rect x="314.00" y="57.98" width="13" height="127.32" fill="#7c7c72"/>
<rect x="314.00" y="59.83" width="13" height="125.47" fill="#898882"/>
<rect x="314.00" y="61.85" width="13" height="123.45" fill="#84867d"/>
<rect x="314.00" y="63.94" width="13" height="121.36" fill="#94948b"/>
<rect x="314.00" y="65.88" width="13" height="119.42" fill="#7f8579"/>
<rect x="314.00" y="67.48" width="13" height="117.82" fill="#a19a9b"/>
<rect x="314.00" y="69.29" width="13" height="116.01" fill="#848980"/>
<rect x="314.00" y="70.99" width="13" height="114.31" fill="#a8a491"/>
<rect x="314.00" y="73.24" width="13" height="112.06" fill="#92947f"/>
<rect x="314.00" y="75.14" width="13" height="110.16" fill="#a0a3a7"/>
<rect x="314.00" y="76.88" width="13" height="108.42" fill="#9f8d90"/>
<rect x="314.00" y="78.50" width="13" height="106.80" fill="#adb1c0"/>
<rect x="314.00" y="80.43" width="13" height="104.87" fill="#939c91"/>
<rect x="314.00" y="82.47" width="13" height="102.83" fill="#b4b4bf"/>
<rect x="314.00" y="84.66" width="13" height="100.64" fill="#9da084"/>
<rect x="314.00" y="86.36" width="13" height="98.94" fill="#aac2c0"/>
<rect x="314.00" y="88.56" width="13" height="96.74" fill="#999daf"/>
<rect x="314.00" y="90.71" width="13" height="94.59" fill="#bfb79a"/>
<rect x="314.00" y="92.34" width="13" height="92.96" fill="#a0a0ad"/>
<rect x="314.00" y="94.65" width="13" height="90.65" fill="#a7c3c3"/>
<rect x="314.00" y="96.97" width="13" height="88.33" fill="#a9a984"/>
<rect x="314.00" y="98.64" width="13" height="86.66" fill="#c8bf9e"/>
<rect x="314.00" y="100.55" width="13" height="84.75" fill="#a3a8b6"/>
<rect x="314.00" y="102.76" width="13" height="82.54" fill="#d6b0bc"/>
<rect x="314.00" y="105.00" width="13" height="80.30" fill="#8ba6a8"/>
<rect x="314.00" y="106.68" width="13" height="78.62" fill="#bac0e1"/>
<rect x="314.00" y="108.36" width="13" height="76.94" fill="#b1a88a"/>
<rect x="314.00" y="110.25" width="13" height="75.05" fill="#cbd1a2"/>
<rect x="314.00" y="112.18" width="13" height="73.12" fill="#a9a9a1"/>
<rect x="314.00" y="113.89" width="13" height="71.41" fill="#b3d0b0"/>
<rect x="314.00" y="116.12" width="13" height="69.18" fill="#ae99b7"/>
<rect x="314.00" y="118.49" width="13" height="66.81" fill="#ced4a2"/>
<rect x="314.00" y="120.46" width="13" height="64.84" fill="#bd97a5"/>
<rect x="314.00" y="122.11" width="13" height="63.19" fill="#add4d8"/>
<rect x="314.00" y="124.50" width="13" height="60.80" fill="#eda0c3"/>
<rect x="314.00" y="127.00" width="13" height="58.30" fill="#8a5cae"/>
<rect x="314.00" y="131.20" width="13" height="54.10" fill="#6168b9"/>
<rect x="314.00" y="134.00" width="13" height="51.30" fill="#4286c8"/>
<rect x="314.00" y="137.50" width="13" height="47.80" fill="#2bb3bf"/>
<rect x="314.00" y="142.50" width="13" height="42.80" fill="#82d0d7"/>
<rect x="314.00" y="147.20" width="13" height="38.10" fill="#d9e690"/>
<rect x="314.00" y="152.00" width="13" height="33.30" fill="#fbe814"/>
<rect x="314.00" y="161.60" width="13" height="23.70" fill="#fbc982"/>
<rect x="314.00" y="171.60" width="13" height="13.70" fill="#6fbd5d"/>
<rect x="314.00" y="117.80" width="13" height="2.00" fill="#f0f0b0"/>
<rect x="314.00" y="82.75" width="13" height="1.50" fill="#dcdcd4"/>
<rect x="314.00" y="93.00" width="13" height="2.00" fill="#a0a0e0"/>
<rect x="314.00" y="104.25" width="13" height="1.50" fill="#e8e8b0"/>
<rect x="314.00" y="46.80" width="13" height="3.2" fill="url(#fadeK)"/>
<rect x="314.00" y="171.30" width="13" height="0.6" fill="#000" fill-opacity="0.15"/>
<rect x="314.00" y="161.30" width="13" height="0.6" fill="#000" fill-opacity="0.15"/>
<rect x="314.00" y="151.70" width="13" height="0.6" fill="#000" fill-opacity="0.15"/>
<rect x="314.00" y="146.90" width="13" height="0.6" fill="#000" fill-opacity="0.15"/>
<rect x="314.00" y="142.20" width="13" height="0.6" fill="#000" fill-opacity="0.15"/>
<rect x="314.00" y="137.20" width="13" height="0.6" fill="#000" fill-opacity="0.15"/>
<rect x="314.00" y="133.70" width="13" height="0.6" fill="#000" fill-opacity="0.15"/>
<rect x="314.00" y="130.90" width="13" height="0.6" fill="#000" fill-opacity="0.15"/>
<rect x="314.00" y="126.70" width="13" height="0.6" fill="#000" fill-opacity="0.15"/>
<rect x="314.00" y="124.20" width="13" height="0.6" fill="#000" fill-opacity="0.15"/>
<rect x="314" y="25.00" width="1" height="160.30" fill="#000" fill-opacity="0.16"/>
<rect x="326" y="25.00" width="1" height="160.30" fill="#000" fill-opacity="0.16"/>
</g>
<g>
<rect x="329.00" y="25.00" width="13" height="160.30" fill="#1b1b1b"/>
<rect x="329.00" y="64.00" width="13" height="121.30" fill="#20201e"/>
<rect x="329.00" y="65.08" width="13" height="120.22" fill="#222220"/>
<rect x="329.00" y="66.55" width="13" height="118.75" fill="#282826"/>
<rect x="329.00" y="68.19" width="13" height="117.11" fill="#2a2a27"/>
<rect x="329.00" y="69.79" width="13" height="115.51" fill="#31312e"/>
<rect x="329.00" y="71.44" width="13" height="113.86" fill="#31312e"/>
<rect x="329.00" y="72.62" width="13" height="112.68" fill="#363633"/>
<rect x="329.00" y="73.86" width="13" height="111.44" fill="#333330"/>
<rect x="329.00" y="75.72" width="13" height="109.58" fill="#3b3b38"/>
<rect x="329.00" y="77.00" width="13" height="108.30" fill="#3c3c39"/>
<rect x="329.00" y="78.46" width="13" height="106.84" fill="#454540"/>
<rect x="329.00" y="80.09" width="13" height="105.21" fill="#42413e"/>
<rect x="329.00" y="81.91" width="13" height="103.39" fill="#4c4c48"/>
<rect x="329.00" y="83.53" width="13" height="101.77" fill="#494945"/>
<rect x="329.00" y="85.44" width="13" height="99.86" fill="#575651"/>
<rect x="329.00" y="86.87" width="13" height="98.43" fill="#53534d"/>
<rect x="329.00" y="88.37" width="13" height="96.93" fill="#5f5f5a"/>
<rect x="329.00" y="90.00" width="13" height="95.30" fill="#585753"/>
<rect x="329.00" y="91.37" width="13" height="93.93" fill="#676763"/>
<rect x="329.00" y="93.07" width="13" height="92.23" fill="#64625f"/>
<rect x="329.00" y="94.84" width="13" height="90.46" fill="#676862"/>
<rect x="329.00" y="96.24" width="13" height="89.06" fill="#656561"/>
<rect x="329.00" y="97.99" width="13" height="87.31" fill="#787470"/>
<rect x="329.00" y="99.64" width="13" height="85.66" fill="#6a685f"/>
<rect x="329.00" y="101.14" width="13" height="84.16" fill="#7b7876"/>
<rect x="329.00" y="102.98" width="13" height="82.32" fill="#706f65"/>
<rect x="329.00" y="104.67" width="13" height="80.63" fill="#7f807d"/>
<rect x="329.00" y="106.29" width="13" height="79.01" fill="#75756e"/>
<rect x="329.00" y="108.19" width="13" height="77.11" fill="#858074"/>
<rect x="329.00" y="109.89" width="13" height="75.41" fill="#757568"/>
<rect x="329.00" y="111.77" width="13" height="73.53" fill="#8c8688"/>
<rect x="329.00" y="113.79" width="13" height="71.51" fill="#7a7575"/>
<rect x="329.00" y="115.62" width="13" height="69.68" fill="#878877"/>
<rect x="329.00" y="117.11" width="13" height="68.19" fill="#827776"/>
<rect x="329.00" y="119.06" width="13" height="66.24" fill="#93937f"/>
<rect x="329.00" y="121.12" width="13" height="64.18" fill="#878085"/>
<rect x="329.00" y="122.60" width="13" height="62.70" fill="#928f7e"/>
<rect x="329.00" y="124.16" width="13" height="61.14" fill="#7c7e80"/>
<rect x="329.00" y="125.89" width="13" height="59.41" fill="#8f9a8a"/>
<rect x="329.00" y="127.43" width="13" height="57.87" fill="#888873"/>
<rect x="329.00" y="129.49" width="13" height="55.81" fill="#9d9498"/>
<rect x="329.00" y="131.62" width="13" height="53.68" fill="#818386"/>
<rect x="329.00" y="133.26" width="13" height="52.04" fill="#99a693"/>
<rect x="329.00" y="134.90" width="13" height="50.40" fill="#898972"/>
<rect x="329.00" y="137.06" width="13" height="48.24" fill="#9fa2b0"/>
<rect x="329.00" y="139.20" width="13" height="46.10" fill="#eda0c3"/>
<rect x="329.00" y="141.40" width="13" height="43.90" fill="#8a5cae"/>
<rect x="329.00" y="143.40" width="13" height="41.90" fill="#6168b9"/>
<rect x="329.00" y="147.00" width="13" height="38.30" fill="#4286c8"/>
<rect x="329.00" y="149.60" width="13" height="35.70" fill="#2bb3bf"/>
<rect x="329.00" y="153.30" width="13" height="32.00" fill="#82d0d7"/>
<rect x="329.00" y="157.00" width="13" height="28.30" fill="#d9e690"/>
<rect x="329.00" y="161.60" width="13" height="23.70" fill="#fbe814"/>
<rect x="329.00" y="168.20" width="13" height="17.10" fill="#fbc982"/>
<rect x="329.00" y="175.50" width="13" height="9.80" fill="#6fbd5d"/>
<rect x="329.00" y="136.05" width="13" height="1.50" fill="#ecebc0"/>
<rect x="329.00" y="63.80" width="13" height="3.2" fill="url(#fadeK)"/>
<rect x="329.00" y="175.20" width="13" height="0.6" fill="#000" fill-opacity="0.15"/>
<rect x="329.00" y="167.90" width="13" height="0.6" fill="#000" fill-opacity="0.15"/>
<rect x="329.00" y="161.30" width="13" height="0.6" fill="#000" fill-opacity="0.15"/>
<rect x="329.00" y="156.70" width="13" height="0.6" fill="#000" fill-opacity="0.15"/>
<rect x="329.00" y="153.00" width="13" height="0.6" fill="#000" fill-opacity="0.15"/>
<rect x="329.00" y="149.30" width="13" height="0.6" fill="#000" fill-opacity="0.15"/>
<rect x="329.00" y="146.70" width="13" height="0.6" fill="#000" fill-opacity="0.15"/>
<rect x="329.00" y="143.10" width="13" height="0.6" fill="#000" fill-opacity="0.15"/>
<rect x="329.00" y="141.10" width="13" height="0.6" fill="#000" fill-opacity="0.15"/>
<rect x="329.00" y="138.90" width="13" height="0.6" fill="#000" fill-opacity="0.15"/>
<rect x="329" y="25.00" width="1" height="160.30" fill="#000" fill-opacity="0.16"/>
<rect x="341" y="25.00" width="1" height="160.30" fill="#000" fill-opacity="0.16"/>
</g>
<g>
<rect x="344.00" y="25.00" width="13" height="160.30" fill="#1b1b1b"/>
<rect x="344.00" y="61.40" width="13" height="123.90" fill="#31312e"/>
<rect x="344.00" y="63.94" width="13" height="121.36" fill="#383835"/>
<rect x="344.00" y="65.54" width="13" height="119.76" fill="#444440"/>
<rect x="344.00" y="66.73" width="13" height="118.57" fill="#3f3f3b"/>
<rect x="344.00" y="68.18" width="13" height="117.12" fill="#4c4c48"/>
<rect x="344.00" y="69.81" width="13" height="115.49" fill="#494844"/>
<rect x="344.00" y="71.52" width="13" height="113.78" fill="#4f4f4a"/>
<rect x="344.00" y="72.83" width="13" height="112.47" fill="#50504b"/>
<rect x="344.00" y="74.19" width="13" height="111.11" fill="#575752"/>
<rect x="344.00" y="75.72" width="13" height="109.58" fill="#545450"/>
<rect x="344.00" y="77.03" width="13" height="108.27" fill="#5f605a"/>
<rect x="344.00" y="78.32" width="13" height="106.98" fill="#5f5e58"/>
<rect x="344.00" y="79.76" width="13" height="105.54" fill="#696863"/>
<rect x="344.00" y="81.34" width="13" height="103.96" fill="#6b6b63"/>
<rect x="344.00" y="83.14" width="13" height="102.16" fill="#7c7974"/>
<rect x="344.00" y="85.08" width="13" height="100.22" fill="#7a7c76"/>
<rect x="344.00" y="87.18" width="13" height="98.12" fill="#8a8784"/>
<rect x="344.00" y="89.07" width="13" height="96.23" fill="#7c7b71"/>
<rect x="344.00" y="90.70" width="13" height="94.60" fill="#8a8a86"/>
<rect x="344.00" y="92.26" width="13" height="93.04" fill="#797a76"/>
<rect x="344.00" y="93.94" width="13" height="91.36" fill="#888e88"/>
<rect x="344.00" y="96.12" width="13" height="89.18" fill="#7e7f7f"/>
<rect x="344.00" y="98.12" width="13" height="87.18" fill="#929083"/>
<rect x="344.00" y="99.76" width="13" height="85.54" fill="#848483"/>
<rect x="344.00" y="101.64" width="13" height="83.66" fill="#9c9390"/>
<rect x="344.00" y="103.14" width="13" height="82.16" fill="#818385"/>
<rect x="344.00" y="105.21" width="13" height="80.09" fill="#9d9696"/>
<rect x="344.00" y="107.20" width="13" height="78.10" fill="#888889"/>
<rect x="344.00" y="108.98" width="13" height="76.32" fill="#919393"/>
<rect x="344.00" y="110.71" width="13" height="74.59" fill="#928685"/>
<rect x="344.00" y="112.64" width="13" height="72.66" fill="#a79d8b"/>
<rect x="344.00" y="114.51" width="13" height="70.79" fill="#888a90"/>
<rect x="344.00" y="116.69" width="13" height="68.61" fill="#9da499"/>
<rect x="344.00" y="118.32" width="13" height="66.98" fill="#8b8d79"/>
<rect x="344.00" y="119.88" width="13" height="65.42" fill="#a2a299"/>
<rect x="344.00" y="121.91" width="13" height="63.39" fill="#889592"/>
<rect x="344.00" y="123.65" width="13" height="61.65" fill="#a3a6b1"/>
<rect x="344.00" y="125.32" width="13" height="59.98" fill="#9b919b"/>
<rect x="344.00" y="127.50" width="13" height="57.80" fill="#afa3a9"/>
<rect x="344.00" y="129.52" width="13" height="55.78" fill="#959880"/>
<rect x="344.00" y="131.13" width="13" height="54.17" fill="#b6a890"/>
<rect x="344.00" y="132.73" width="13" height="52.57" fill="#919178"/>
<rect x="344.00" y="134.67" width="13" height="50.63" fill="#b4ae96"/>
<rect x="344.00" y="136.50" width="13" height="48.80" fill="#92928a"/>
<rect x="344.00" y="138.14" width="13" height="47.16" fill="#a6b7a1"/>
<rect x="344.00" y="140.33" width="13" height="44.97" fill="#a2969d"/>
<rect x="344.00" y="142.48" width="13" height="42.82" fill="#b0b394"/>
<rect x="344.00" y="144.80" width="13" height="40.50" fill="#eda0c3"/>
<rect x="344.00" y="147.30" width="13" height="38.00" fill="#8a5cae"/>
<rect x="344.00" y="151.70" width="13" height="33.60" fill="#6168b9"/>
<rect x="344.00" y="155.50" width="13" height="29.80" fill="#4286c8"/>
<rect x="344.00" y="158.80" width="13" height="26.50" fill="#2bb3bf"/>
<rect x="344.00" y="162.30" width="13" height="23.00" fill="#82d0d7"/>
<rect x="344.00" y="165.60" width="13" height="19.70" fill="#d9e690"/>
<rect x="344.00" y="169.60" width="13" height="15.70" fill="#fbe814"/>
<rect x="344.00" y="173.60" width="13" height="11.70" fill="#fbc982"/>
<rect x="344.00" y="178.20" width="13" height="7.10" fill="#6fbd5d"/>
<rect x="344.00" y="61.20" width="13" height="3.2" fill="url(#fadeK)"/>
<rect x="344.00" y="177.90" width="13" height="0.6" fill="#000" fill-opacity="0.15"/>
<rect x="344.00" y="173.30" width="13" height="0.6" fill="#000" fill-opacity="0.15"/>
<rect x="344.00" y="169.30" width="13" height="0.6" fill="#000" fill-opacity="0.15"/>
<rect x="344.00" y="165.30" width="13" height="0.6" fill="#000" fill-opacity="0.15"/>
<rect x="344.00" y="162.00" width="13" height="0.6" fill="#000" fill-opacity="0.15"/>
<rect x="344.00" y="158.50" width="13" height="0.6" fill="#000" fill-opacity="0.15"/>
<rect x="344.00" y="155.20" width="13" height="0.6" fill="#000" fill-opacity="0.15"/>
<rect x="344.00" y="151.40" width="13" height="0.6" fill="#000" fill-opacity="0.15"/>
<rect x="344.00" y="147.00" width="13" height="0.6" fill="#000" fill-opacity="0.15"/>
<rect x="344.00" y="144.50" width="13" height="0.6" fill="#000" fill-opacity="0.15"/>
<rect x="344" y="25.00" width="1" height="160.30" fill="#000" fill-opacity="0.16"/>
<rect x="356" y="25.00" width="1" height="160.30" fill="#000" fill-opacity="0.16"/>
</g>
<g>
<rect x="359.00" y="25.00" width="13" height="160.30" fill="#1b1b1b"/>
<rect x="359.00" y="52.60" width="13" height="132.70" fill="#3f3f3b"/>
<rect x="359.00" y="53.44" width="13" height="131.86" fill="#454541"/>
<rect x="359.00" y="55.03" width="13" height="130.27" fill="#5f5f5a"/>
<rect x="359.00" y="56.93" width="13" height="128.37" fill="#66675e"/>
<rect x="359.00" y="58.59" width="13" height="126.71" fill="#7a766b"/>
<rect x="359.00" y="60.10" width="13" height="125.20" fill="#6e6a69"/>
<rect x="359.00" y="61.59" width="13" height="123.71" fill="#7f7f80"/>
<rect x="359.00" y="63.68" width="13" height="121.62" fill="#707273"/>
<rect x="359.00" y="65.27" width="13" height="120.03" fill="#8f8182"/>
<rect x="359.00" y="66.73" width="13" height="118.57" fill="#7d7566"/>
<rect x="359.00" y="68.88" width="13" height="116.42" fill="#91888c"/>
<rect x="359.00" y="70.81" width="13" height="114.49" fill="#77797c"/>
<rect x="359.00" y="72.77" width="13" height="112.53" fill="#889794"/>
<rect x="359.00" y="74.88" width="13" height="110.42" fill="#7c7c67"/>
<rect x="359.00" y="76.51" width="13" height="108.79" fill="#9e9399"/>
<rect x="359.00" y="78.09" width="13" height="107.21" fill="#82846e"/>
<rect x="359.00" y="80.12" width="13" height="105.18" fill="#879795"/>
<rect x="359.00" y="82.13" width="13" height="103.17" fill="#848792"/>
<rect x="359.00" y="83.67" width="13" height="101.63" fill="#949d92"/>
<rect x="359.00" y="85.78" width="13" height="99.52" fill="#8b8e92"/>
<rect x="359.00" y="87.78" width="13" height="97.52" fill="#98a593"/>
<rect x="359.00" y="89.42" width="13" height="95.88" fill="#90939e"/>
<rect x="359.00" y="91.42" width="13" height="93.88" fill="#b2a6b2"/>
<rect x="359.00" y="93.02" width="13" height="92.28" fill="#9ca599"/>
<rect x="359.00" y="94.67" width="13" height="90.63" fill="#cbcbc0"/>
<rect x="359.00" y="97.00" width="13" height="88.30" fill="#b8a4d8"/>
<rect x="359.00" y="99.70" width="13" height="85.60" fill="#eda0c3"/>
<rect x="359.00" y="102.80" width="13" height="82.50" fill="#8a5cae"/>
<rect x="359.00" y="107.30" width="13" height="78.00" fill="#6168b9"/>
<rect x="359.00" y="112.20" width="13" height="73.10" fill="#4286c8"/>
<rect x="359.00" y="117.20" width="13" height="68.10" fill="#2bb3bf"/>
<rect x="359.00" y="122.20" width="13" height="63.10" fill="#82d0d7"/>
<rect x="359.00" y="128.80" width="13" height="56.50" fill="#d9e690"/>
<rect x="359.00" y="134.10" width="13" height="51.20" fill="#fbe814"/>
<rect x="359.00" y="141.50" width="13" height="43.80" fill="#fbc982"/>
<rect x="359.00" y="160.30" width="13" height="25.00" fill="#6fbd5d"/>
<rect x="359.00" y="93.70" width="13" height="1.40" fill="#f0f0a8"/>
<rect x="359.00" y="78.00" width="13" height="1.60" fill="#d0d070"/>
<rect x="359.00" y="65.10" width="13" height="1.80" fill="#9090c8"/>
<rect x="359.00" y="71.20" width="13" height="1.60" fill="#9090c8"/>
<rect x="359.00" y="85.20" width="13" height="1.60" fill="#e0e0e0"/>
<rect x="359.00" y="52.40" width="13" height="3.2" fill="url(#fadeK)"/>
<rect x="359.00" y="160.00" width="13" height="0.6" fill="#000" fill-opacity="0.15"/>
<rect x="359.00" y="141.20" width="13" height="0.6" fill="#000" fill-opacity="0.15"/>
<rect x="359.00" y="133.80" width="13" height="0.6" fill="#000" fill-opacity="0.15"/>
<rect x="359.00" y="128.50" width="13" height="0.6" fill="#000" fill-opacity="0.15"/>
<rect x="359.00" y="121.90" width="13" height="0.6" fill="#000" fill-opacity="0.15"/>
<rect x="359.00" y="116.90" width="13" height="0.6" fill="#000" fill-opacity="0.15"/>
<rect x="359.00" y="111.90" width="13" height="0.6" fill="#000" fill-opacity="0.15"/>
<rect x="359.00" y="107.00" width="13" height="0.6" fill="#000" fill-opacity="0.15"/>
<rect x="359.00" y="102.50" width="13" height="0.6" fill="#000" fill-opacity="0.15"/>
<rect x="359.00" y="99.40" width="13" height="0.6" fill="#000" fill-opacity="0.15"/>
<rect x="359.00" y="96.70" width="13" height="0.6" fill="#000" fill-opacity="0.15"/>
<rect x="359" y="25.00" width="1" height="160.30" fill="#000" fill-opacity="0.16"/>
<rect x="371" y="25.00" width="1" height="160.30" fill="#000" fill-opacity="0.16"/>
</g>
<g>
<rect x="375.00" y="25.00" width="13" height="160.30" fill="#1b1b1b"/>
<rect x="375.00" y="64.40" width="13" height="120.90" fill="#2a2a28"/>
<rect x="375.00" y="65.22" width="13" height="120.08" fill="#292927"/>
<rect x="375.00" y="66.49" width="13" height="118.81" fill="#363632"/>
<rect x="375.00" y="67.84" width="13" height="117.46" fill="#343430"/>
<rect x="375.00" y="69.11" width="13" height="116.19" fill="#3f3f3c"/>
<rect x="375.00" y="70.80" width="13" height="114.50" fill="#3d3d39"/>
<rect x="375.00" y="72.07" width="13" height="113.23" fill="#484844"/>
<rect x="375.00" y="73.60" width="13" height="111.70" fill="#474743"/>
<rect x="375.00" y="74.86" width="13" height="110.44" fill="#4f4f4a"/>
<rect x="375.00" y="76.56" width="13" height="108.74" fill="#4c4c48"/>
<rect x="375.00" y="78.32" width="13" height="106.98" fill="#595954"/>
<rect x="375.00" y="80.20" width="13" height="105.10" fill="#565651"/>
<rect x="375.00" y="81.70" width="13" height="103.60" fill="#666661"/>
<rect x="375.00" y="83.54" width="13" height="101.76" fill="#61605c"/>
<rect x="375.00" y="85.55" width="13" height="99.75" fill="#6d6e67"/>
<rect x="375.00" y="87.25" width="13" height="98.05" fill="#666660"/>
<rect x="375.00" y="88.72" width="13" height="96.58" fill="#74736a"/>
<rect x="375.00" y="90.37" width="13" height="94.93" fill="#6d6f67"/>
<rect x="375.00" y="91.78" width="13" height="93.52" fill="#777572"/>
<rect x="375.00" y="93.71" width="13" height="91.59" fill="#727269"/>
<rect x="375.00" y="95.43" width="13" height="89.87" fill="#757571"/>
<rect x="375.00" y="97.16" width="13" height="88.14" fill="#77736f"/>
<rect x="375.00" y="99.14" width="13" height="86.16" fill="#7f8278"/>
<rect x="375.00" y="100.71" width="13" height="84.59" fill="#767971"/>
<rect x="375.00" y="102.54" width="13" height="82.76" fill="#828380"/>
<rect x="375.00" y="104.45" width="13" height="80.85" fill="#79756a"/>
<rect x="375.00" y="105.84" width="13" height="79.46" fill="#7d8176"/>
<rect x="375.00" y="107.24" width="13" height="78.06" fill="#777372"/>
<rect x="375.00" y="109.07" width="13" height="76.23" fill="#80837b"/>
<rect x="375.00" y="110.88" width="13" height="74.42" fill="#7a776c"/>
<rect x="375.00" y="112.87" width="13" height="72.43" fill="#89807e"/>
<rect x="375.00" y="114.88" width="13" height="70.42" fill="#767e7a"/>
<rect x="375.00" y="116.94" width="13" height="68.36" fill="#898a8f"/>
<rect x="375.00" y="118.95" width="13" height="66.35" fill="#7c8178"/>
<rect x="375.00" y="120.41" width="13" height="64.89" fill="#8a8c79"/>
<rect x="375.00" y="121.87" width="13" height="63.43" fill="#847878"/>
<rect x="375.00" y="123.53" width="13" height="61.77" fill="#938a79"/>
<rect x="375.00" y="125.33" width="13" height="59.97" fill="#7f8188"/>
<rect x="375.00" y="127.40" width="13" height="57.90" fill="#9d939d"/>
<rect x="375.00" y="128.89" width="13" height="56.41" fill="#867e81"/>
<rect x="375.00" y="130.44" width="13" height="54.86" fill="#959780"/>
<rect x="375.00" y="132.60" width="13" height="52.70" fill="#8f8472"/>
<rect x="375.00" y="134.67" width="13" height="50.63" fill="#a1959b"/>
<rect x="375.00" y="136.73" width="13" height="48.57" fill="#8a9287"/>
<rect x="375.00" y="138.77" width="13" height="46.53" fill="#9e9ea7"/>
<rect x="375.00" y="140.83" width="13" height="44.47" fill="#8b8e94"/>
<rect x="375.00" y="142.84" width="13" height="42.46" fill="#a5a59d"/>
<rect x="375.00" y="144.50" width="13" height="40.80" fill="#eda0c3"/>
<rect x="375.00" y="147.30" width="13" height="38.00" fill="#8a5cae"/>
<rect x="375.00" y="151.50" width="13" height="33.80" fill="#6168b9"/>
<rect x="375.00" y="154.50" width="13" height="30.80" fill="#4286c8"/>
<rect x="375.00" y="157.60" width="13" height="27.70" fill="#2bb3bf"/>
<rect x="375.00" y="161.00" width="13" height="24.30" fill="#82d0d7"/>
<rect x="375.00" y="165.00" width="13" height="20.30" fill="#d9e690"/>
<rect x="375.00" y="169.00" width="13" height="16.30" fill="#fbe814"/>
<rect x="375.00" y="174.20" width="13" height="11.10" fill="#fbc982"/>
<rect x="375.00" y="178.90" width="13" height="6.40" fill="#6fbd5d"/>
<rect x="375.00" y="64.20" width="13" height="3.2" fill="url(#fadeK)"/>
<rect x="375.00" y="178.60" width="13" height="0.6" fill="#000" fill-opacity="0.15"/>
<rect x="375.00" y="173.90" width="13" height="0.6" fill="#000" fill-opacity="0.15"/>
<rect x="375.00" y="168.70" width="13" height="0.6" fill="#000" fill-opacity="0.15"/>
<rect x="375.00" y="164.70" width="13" height="0.6" fill="#000" fill-opacity="0.15"/>
<rect x="375.00" y="160.70" width="13" height="0.6" fill="#000" fill-opacity="0.15"/>
<rect x="375.00" y="157.30" width="13" height="0.6" fill="#000" fill-opacity="0.15"/>
<rect x="375.00" y="154.20" width="13" height="0.6" fill="#000" fill-opacity="0.15"/>
<rect x="375.00" y="151.20" width="13" height="0.6" fill="#000" fill-opacity="0.15"/>
<rect x="375.00" y="147.00" width="13" height="0.6" fill="#000" fill-opacity="0.15"/>
<rect x="375.00" y="144.20" width="13" height="0.6" fill="#000" fill-opacity="0.15"/>
<rect x="375" y="25.00" width="1" height="160.30" fill="#000" fill-opacity="0.16"/>
<rect x="387" y="25.00" width="1" height="160.30" fill="#000" fill-opacity="0.16"/>
</g>
<g>
<rect x="390.00" y="25.00" width="13" height="160.30" fill="#1b1b1b"/>
<rect x="390.00" y="85.00" width="13" height="100.30" fill="#272724"/>
<rect x="390.00" y="86.22" width="13" height="99.08" fill="#333330"/>
<rect x="390.00" y="87.37" width="13" height="97.93" fill="#373734"/>
<rect x="390.00" y="88.54" width="13" height="96.76" fill="#484844"/>
<rect x="390.00" y="90.06" width="13" height="95.24" fill="#555550"/>
<rect x="390.00" y="91.58" width="13" height="93.72" fill="#5d5d57"/>
<rect x="390.00" y="93.49" width="13" height="91.81" fill="#565651"/>
<rect x="390.00" y="95.22" width="13" height="90.08" fill="#60605a"/>
<rect x="390.00" y="96.70" width="13" height="88.60" fill="#f0f090"/>
<rect x="390.00" y="98.50" width="13" height="86.80" fill="#b8a4d8"/>
<rect x="390.00" y="101.40" width="13" height="83.90" fill="#eda0c3"/>
<rect x="390.00" y="105.00" width="13" height="80.30" fill="#8a5cae"/>
<rect x="390.00" y="109.00" width="13" height="76.30" fill="#6168b9"/>
<rect x="390.00" y="113.20" width="13" height="72.10" fill="#4286c8"/>
<rect x="390.00" y="117.40" width="13" height="67.90" fill="#2bb3bf"/>
<rect x="390.00" y="122.30" width="13" height="63.00" fill="#82d0d7"/>
<rect x="390.00" y="129.50" width="13" height="55.80" fill="#d9e690"/>
<rect x="390.00" y="137.70" width="13" height="47.60" fill="#fbe814"/>
<rect x="390.00" y="147.30" width="13" height="38.00" fill="#fbc982"/>
<rect x="390.00" y="163.00" width="13" height="22.30" fill="#6fbd5d"/>
<rect x="390.00" y="84.80" width="13" height="3.2" fill="url(#fadeK)"/>
<rect x="390.00" y="162.70" width="13" height="0.6" fill="#000" fill-opacity="0.15"/>
<rect x="390.00" y="147.00" width="13" height="0.6" fill="#000" fill-opacity="0.15"/>
<rect x="390.00" y="137.40" width="13" height="0.6" fill="#000" fill-opacity="0.15"/>
<rect x="390.00" y="129.20" width="13" height="0.6" fill="#000" fill-opacity="0.15"/>
<rect x="390.00" y="122.00" width="13" height="0.6" fill="#000" fill-opacity="0.15"/>
<rect x="390.00" y="117.10" width="13" height="0.6" fill="#000" fill-opacity="0.15"/>
<rect x="390.00" y="112.90" width="13" height="0.6" fill="#000" fill-opacity="0.15"/>
<rect x="390.00" y="108.70" width="13" height="0.6" fill="#000" fill-opacity="0.15"/>
<rect x="390.00" y="104.70" width="13" height="0.6" fill="#000" fill-opacity="0.15"/>
<rect x="390.00" y="101.10" width="13" height="0.6" fill="#000" fill-opacity="0.15"/>
<rect x="390.00" y="98.20" width="13" height="0.6" fill="#000" fill-opacity="0.15"/>
<rect x="390.00" y="96.40" width="13" height="0.6" fill="#000" fill-opacity="0.15"/>
<rect x="390" y="25.00" width="1" height="160.30" fill="#000" fill-opacity="0.16"/>
<rect x="402" y="25.00" width="1" height="160.30" fill="#000" fill-opacity="0.16"/>
</g>
<line x1="147.6" y1="24.8" x2="147.6" y2="185.8" stroke="#222" stroke-width="0.9"/>
<line x1="144.6" y1="185.30" x2="147.6" y2="185.30" stroke="#222" stroke-width="0.8"/>
<text x="141.4" y="187.80" font-size="7.1" text-anchor="end" fill="#333333" font-weight="normal" >0</text>
<line x1="146.1" y1="169.30" x2="147.6" y2="169.30" stroke="#222" stroke-width="0.7"/>
<line x1="144.6" y1="153.30" x2="147.6" y2="153.30" stroke="#222" stroke-width="0.8"/>
<text x="141.4" y="155.80" font-size="7.1" text-anchor="end" fill="#333333" font-weight="normal" >20</text>
<line x1="146.1" y1="137.30" x2="147.6" y2="137.30" stroke="#222" stroke-width="0.7"/>
<line x1="144.6" y1="121.30" x2="147.6" y2="121.30" stroke="#222" stroke-width="0.8"/>
<text x="141.4" y="123.80" font-size="7.1" text-anchor="end" fill="#333333" font-weight="normal" >40</text>
<line x1="146.1" y1="105.30" x2="147.6" y2="105.30" stroke="#222" stroke-width="0.7"/>
<line x1="144.6" y1="89.30" x2="147.6" y2="89.30" stroke="#222" stroke-width="0.8"/>
<text x="141.4" y="91.80" font-size="7.1" text-anchor="end" fill="#333333" font-weight="normal" >60</text>
<line x1="146.1" y1="73.30" x2="147.6" y2="73.30" stroke="#222" stroke-width="0.7"/>
<line x1="144.6" y1="57.30" x2="147.6" y2="57.30" stroke="#222" stroke-width="0.8"/>
<text x="141.4" y="59.80" font-size="7.1" text-anchor="end" fill="#333333" font-weight="normal" >80</text>
<line x1="146.1" y1="41.30" x2="147.6" y2="41.30" stroke="#222" stroke-width="0.7"/>
<line x1="144.6" y1="25.30" x2="147.6" y2="25.30" stroke="#222" stroke-width="0.8"/>
<text x="141.4" y="27.80" font-size="7.1" text-anchor="end" fill="#333333" font-weight="normal" >100</text>
<text transform="translate(122.7,105.4) rotate(-90)" font-size="8.8" text-anchor="middle" fill="#333333" textLength="64.5" lengthAdjust="spacingAndGlyphs" stroke="#333333" stroke-width="0.25">Clonal contribution (%)</text>
<line x1="147.2" y1="185.4" x2="404.2" y2="185.4" stroke="#222" stroke-width="1"/>
<line x1="154.40" y1="185.4" x2="154.40" y2="187.6" stroke="#222" stroke-width="0.8"/>
<text transform="translate(157.30,193.4) rotate(-45)" font-size="8.2" text-anchor="end" fill="#333333" textLength="28.6" lengthAdjust="spacingAndGlyphs">SCD P1</text>
<line x1="169.51" y1="185.4" x2="169.51" y2="187.6" stroke="#222" stroke-width="0.8"/>
<text transform="translate(172.41,193.4) rotate(-45)" font-size="8.2" text-anchor="end" fill="#333333" textLength="28.6" lengthAdjust="spacingAndGlyphs">SCD P2</text>
<line x1="184.62" y1="185.4" x2="184.62" y2="187.6" stroke="#222" stroke-width="0.8"/>
<text transform="translate(187.52,193.4) rotate(-45)" font-size="8.2" text-anchor="end" fill="#333333" textLength="28.6" lengthAdjust="spacingAndGlyphs">SCD P3</text>
<line x1="199.73" y1="185.4" x2="199.73" y2="187.6" stroke="#222" stroke-width="0.8"/>
<text transform="translate(202.63,193.4) rotate(-45)" font-size="8.2" text-anchor="end" fill="#333333" textLength="28.6" lengthAdjust="spacingAndGlyphs">SCD P4</text>
<line x1="214.84" y1="185.4" x2="214.84" y2="187.6" stroke="#222" stroke-width="0.8"/>
<text transform="translate(217.74,193.4) rotate(-45)" font-size="8.2" text-anchor="end" fill="#333333" textLength="28.6" lengthAdjust="spacingAndGlyphs">SCD P5</text>
<line x1="229.95" y1="185.4" x2="229.95" y2="187.6" stroke="#222" stroke-width="0.8"/>
<text transform="translate(232.85,193.4) rotate(-45)" font-size="8.2" text-anchor="end" fill="#333333" textLength="28.6" lengthAdjust="spacingAndGlyphs">SCD P6</text>
<line x1="245.06" y1="185.4" x2="245.06" y2="187.6" stroke="#222" stroke-width="0.8"/>
<text transform="translate(247.96,193.4) rotate(-45)" font-size="8.2" text-anchor="end" fill="#333333" textLength="28.6" lengthAdjust="spacingAndGlyphs">SCD P7</text>
<line x1="260.17" y1="185.4" x2="260.17" y2="187.6" stroke="#222" stroke-width="0.8"/>
<text transform="translate(263.07,193.4) rotate(-45)" font-size="8.2" text-anchor="end" fill="#333333" textLength="28.6" lengthAdjust="spacingAndGlyphs">SCD P8</text>
<line x1="275.28" y1="185.4" x2="275.28" y2="187.6" stroke="#222" stroke-width="0.8"/>
<line x1="290.39" y1="185.4" x2="290.39" y2="187.6" stroke="#222" stroke-width="0.8"/>
<text transform="translate(293.29,193.4) rotate(-45)" font-size="8.2" text-anchor="end" fill="#333333" textLength="28.6" lengthAdjust="spacingAndGlyphs">SCD P1</text>
<line x1="305.50" y1="185.4" x2="305.50" y2="187.6" stroke="#222" stroke-width="0.8"/>
<text transform="translate(308.40,193.4) rotate(-45)" font-size="8.2" text-anchor="end" fill="#333333" textLength="28.6" lengthAdjust="spacingAndGlyphs">SCD P2</text>
<line x1="320.61" y1="185.4" x2="320.61" y2="187.6" stroke="#222" stroke-width="0.8"/>
<text transform="translate(323.51,193.4) rotate(-45)" font-size="8.2" text-anchor="end" fill="#333333" textLength="28.6" lengthAdjust="spacingAndGlyphs">SCD P3</text>
<line x1="335.72" y1="185.4" x2="335.72" y2="187.6" stroke="#222" stroke-width="0.8"/>
<text transform="translate(338.62,193.4) rotate(-45)" font-size="8.2" text-anchor="end" fill="#333333" textLength="28.6" lengthAdjust="spacingAndGlyphs">SCD P4</text>
<line x1="350.83" y1="185.4" x2="350.83" y2="187.6" stroke="#222" stroke-width="0.8"/>
<text transform="translate(353.73,193.4) rotate(-45)" font-size="8.2" text-anchor="end" fill="#333333" textLength="28.6" lengthAdjust="spacingAndGlyphs">SCD P5</text>
<line x1="365.94" y1="185.4" x2="365.94" y2="187.6" stroke="#222" stroke-width="0.8"/>
<text transform="translate(368.84,193.4) rotate(-45)" font-size="8.2" text-anchor="end" fill="#333333" textLength="28.6" lengthAdjust="spacingAndGlyphs">SCD P6</text>
<line x1="381.05" y1="185.4" x2="381.05" y2="187.6" stroke="#222" stroke-width="0.8"/>
<text transform="translate(383.95,193.4) rotate(-45)" font-size="8.2" text-anchor="end" fill="#333333" textLength="28.6" lengthAdjust="spacingAndGlyphs">SCD P7</text>
<line x1="396.16" y1="185.4" x2="396.16" y2="187.6" stroke="#222" stroke-width="0.8"/>
<text transform="translate(399.06,193.4) rotate(-45)" font-size="8.2" text-anchor="end" fill="#333333" textLength="28.6" lengthAdjust="spacingAndGlyphs">SCD P8</text>
<path d="M137.6,218.0 L137.6,223.1 Q137.6,224.6 139.1,224.6 L190.8,224.6 Q192.3,224.6 192.3,230.2 Q192.3,224.6 193.8,224.6 L245.5,224.6 Q247.0,224.6 247.0,223.1 L247.0,218.0" fill="none" stroke="#555" stroke-width="0.9"/>
<path d="M270.8,217.5 L270.8,222.8 Q270.8,224.3 272.3,224.3 L324.20000000000005,224.3 Q325.70000000000005,224.3 325.70000000000005,229.5 Q325.70000000000005,224.3 327.20000000000005,224.3 L379.1,224.3 Q380.6,224.3 380.6,222.8 L380.6,217.5" fill="none" stroke="#555" stroke-width="0.9"/>
<text x="192.3" y="240.4" font-size="7.5" text-anchor="middle" fill="#333333" font-weight="normal" >LV-GFP</text>
<text x="325.4" y="240.4" font-size="7.6" text-anchor="middle" fill="#333333" font-weight="normal" >LV-GFP+UM171</text>
<text x="8.0" y="267.0" font-size="10.8" text-anchor="start" fill="#000" font-weight="bold" >B</text>
<line x1="42.4" y1="294.2" x2="42.4" y2="365.8" stroke="#222" stroke-width="0.9"/>
<line x1="39.8" y1="365.30" x2="42.4" y2="365.30" stroke="#222" stroke-width="0.8"/>
<text x="37.2" y="367.90" font-size="7.5" text-anchor="end" fill="#333333" font-weight="normal" >0</text>
<line x1="39.8" y1="347.82" x2="42.4" y2="347.82" stroke="#222" stroke-width="0.8"/>
<text x="37.2" y="350.43" font-size="7.5" text-anchor="end" fill="#333333" font-weight="normal" >500</text>
<line x1="39.8" y1="330.35" x2="42.4" y2="330.35" stroke="#222" stroke-width="0.8"/>
<text x="37.2" y="332.95" font-size="7.5" text-anchor="end" fill="#333333" font-weight="normal" >1000</text>
<line x1="39.8" y1="312.88" x2="42.4" y2="312.88" stroke="#222" stroke-width="0.8"/>
<text x="37.2" y="315.48" font-size="7.5" text-anchor="end" fill="#333333" font-weight="normal" >1500</text>
<line x1="39.8" y1="295.40" x2="42.4" y2="295.40" stroke="#222" stroke-width="0.8"/>
<text x="37.2" y="298.00" font-size="7.5" text-anchor="end" fill="#333333" font-weight="normal" >2000</text>
<text transform="translate(13.6,328.7) rotate(-90)" font-size="8.6" text-anchor="middle" fill="#333333" textLength="77.5" lengthAdjust="spacingAndGlyphs" stroke="#333333" stroke-width="0.25">Number of unique barcodes</text>
<line x1="42.4" y1="365.4" x2="148" y2="365.4" stroke="#222" stroke-width="1"/>
<line x1="73.4" y1="365.4" x2="73.4" y2="367.6" stroke="#222" stroke-width="0.8"/>
<line x1="117.8" y1="365.4" x2="117.8" y2="367.6" stroke="#222" stroke-width="0.8"/>
<text transform="translate(76.2,373.8) rotate(-45)" font-size="7.8" text-anchor="end" fill="#333333">LV-GFP</text>
<text transform="translate(117.0,374.8) rotate(-45)" font-size="7.8" text-anchor="end" fill="#333333">LV-GFP +</text>
<text transform="translate(123.2,381.2) rotate(-45)" font-size="7.8" text-anchor="end" fill="#333333">UM171</text>
<line x1="73.4" y1="325.8" x2="117.8" y2="304.2" stroke="#c8c8c8" stroke-width="1.05"/>
<line x1="73.4" y1="344.3" x2="117.8" y2="321.4" stroke="#b87440" stroke-width="1.05"/>
<line x1="73.4" y1="335.2" x2="117.8" y2="336.3" stroke="#3aa0dc" stroke-width="1.05"/>
<line x1="73.4" y1="343.6" x2="117.8" y2="339.0" stroke="#f2a83a" stroke-width="1.05"/>
<line x1="73.4" y1="350.6" x2="117.8" y2="326.4" stroke="#46286e" stroke-width="1.05"/>
<line x1="73.4" y1="317.6" x2="117.8" y2="338.1" stroke="#2f9a36" stroke-width="1.05"/>
<line x1="73.4" y1="347.0" x2="117.8" y2="340.4" stroke="#1f4a8a" stroke-width="1.05"/>
<line x1="73.4" y1="347.6" x2="117.8" y2="342.7" stroke="#c81e2a" stroke-width="1.05"/>
<rect x="71.9" y="324.3" width="3" height="3" fill="#fff" stroke="#c8c8c8" stroke-width="0.8"/>
<rect x="116.3" y="302.7" width="3" height="3" fill="#fff" stroke="#c8c8c8" stroke-width="0.8"/>
<circle cx="73.4" cy="344.3" r="1.5" fill="#fff" stroke="#b87440" stroke-width="0.8"/>
<circle cx="117.8" cy="321.4" r="1.5" fill="#fff" stroke="#b87440" stroke-width="0.8"/>
<path d="M71.7,335.2 L74.60000000000001,333.8 L74.60000000000001,336.59999999999997 Z" fill="#3aa0dc"/>
<path d="M116.1,336.3 L119.0,334.90000000000003 L119.0,337.7 Z" fill="#3aa0dc"/>
<circle cx="73.4" cy="343.6" r="1.4" fill="#f2a83a"/>
<circle cx="117.8" cy="339.0" r="1.4" fill="#f2a83a"/>
<path d="M73.4,348.70000000000005 L75.0,350.6 L73.4,352.5 L71.80000000000001,350.6 Z" fill="#46286e"/>
<path d="M117.8,324.5 L119.39999999999999,326.4 L117.8,328.29999999999995 L116.2,326.4 Z" fill="#46286e"/>
<rect x="72.0" y="316.20000000000005" width="2.8" height="2.8" fill="#2f9a36"/>
<rect x="116.39999999999999" y="336.70000000000005" width="2.8" height="2.8" fill="#2f9a36"/>
<polygon points="73.40,345.00 73.93,346.27 75.30,346.38 74.26,347.28 74.58,348.62 73.40,347.90 72.22,348.62 72.54,347.28 71.50,346.38 72.87,346.27" fill="#1f4a8a"/>
<polygon points="117.80,338.40 118.33,339.67 119.70,339.78 118.66,340.68 118.98,342.02 117.80,341.30 116.62,342.02 116.94,340.68 115.90,339.78 117.27,339.67" fill="#1f4a8a"/>
<circle cx="73.4" cy="347.6" r="1.4" fill="#c81e2a"/>
<circle cx="117.8" cy="342.7" r="1.4" fill="#c81e2a"/>
<line x1="132.4" y1="285.30" x2="140.6" y2="285.30" stroke="#c81e2a" stroke-width="0.9"/>
<circle cx="136.5" cy="285.3" r="1.4" fill="#c81e2a"/>
<text x="143.6" y="287.80" font-size="7.1" text-anchor="start" fill="#333333" font-weight="normal" >SCD P1</text>
<line x1="132.4" y1="295.05" x2="140.6" y2="295.05" stroke="#1f4a8a" stroke-width="0.9"/>
<polygon points="136.50,293.05 137.03,294.32 138.40,294.43 137.36,295.33 137.68,296.67 136.50,295.95 135.32,296.67 135.64,295.33 134.60,294.43 135.97,294.32" fill="#1f4a8a"/>
<text x="143.6" y="297.55" font-size="7.1" text-anchor="start" fill="#333333" font-weight="normal" >SCD P3</text>
<line x1="132.4" y1="304.80" x2="140.6" y2="304.80" stroke="#2f9a36" stroke-width="0.9"/>
<rect x="135.1" y="303.40000000000003" width="2.8" height="2.8" fill="#2f9a36"/>
<text x="143.6" y="307.30" font-size="7.1" text-anchor="start" fill="#333333" font-weight="normal" >SCD P2</text>
<line x1="132.4" y1="314.55" x2="140.6" y2="314.55" stroke="#46286e" stroke-width="0.9"/>
<path d="M136.5,312.65000000000003 L138.1,314.55 L136.5,316.45 L134.9,314.55 Z" fill="#46286e"/>
<text x="143.6" y="317.05" font-size="7.1" text-anchor="start" fill="#333333" font-weight="normal" >SCD P4</text>
<line x1="132.4" y1="324.30" x2="140.6" y2="324.30" stroke="#f2a83a" stroke-width="0.9"/>
<circle cx="136.5" cy="324.3" r="1.4" fill="#f2a83a"/>
<text x="143.6" y="326.80" font-size="7.1" text-anchor="start" fill="#333333" font-weight="normal" >SCD P5</text>
<line x1="132.4" y1="334.05" x2="140.6" y2="334.05" stroke="#3aa0dc" stroke-width="0.9"/>
<path d="M134.8,334.05 L137.7,332.65000000000003 L137.7,335.45 Z" fill="#3aa0dc"/>
<text x="143.6" y="336.55" font-size="7.1" text-anchor="start" fill="#333333" font-weight="normal" >SCD P6</text>
<line x1="132.4" y1="343.80" x2="140.6" y2="343.80" stroke="#b87440" stroke-width="0.9"/>
<circle cx="136.5" cy="343.8" r="1.5" fill="#fff" stroke="#b87440" stroke-width="0.8"/>
<text x="143.6" y="346.30" font-size="7.1" text-anchor="start" fill="#333333" font-weight="normal" >SCD P7</text>
<line x1="132.4" y1="353.55" x2="140.6" y2="353.55" stroke="#c8c8c8" stroke-width="0.9"/>
<rect x="135.0" y="352.05" width="3" height="3" fill="#fff" stroke="#c8c8c8" stroke-width="0.8"/>
<text x="143.6" y="356.05" font-size="7.1" text-anchor="start" fill="#333333" font-weight="normal" >SCD P8</text>
<text x="185.4" y="267.0" font-size="10.8" text-anchor="start" fill="#000" font-weight="bold" >C</text>
<text x="218.8" y="280.6" font-size="9.0" text-anchor="start" fill="#222" font-weight="normal" >TOP5 clones contribution</text>
<line x1="216.5" y1="294.6" x2="216.5" y2="366" stroke="#222" stroke-width="0.9"/>
<line x1="213.8" y1="365.50" x2="216.5" y2="365.50" stroke="#222" stroke-width="0.8"/>
<text x="210.3" y="368.00" font-size="7.2" text-anchor="end" fill="#333333" font-weight="normal" >0</text>
<line x1="213.8" y1="330.30" x2="216.5" y2="330.30" stroke="#222" stroke-width="0.8"/>
<text x="210.3" y="332.80" font-size="7.2" text-anchor="end" fill="#333333" font-weight="normal" >50</text>
<line x1="213.8" y1="295.10" x2="216.5" y2="295.10" stroke="#222" stroke-width="0.8"/>
<text x="210.3" y="297.60" font-size="7.2" text-anchor="end" fill="#333333" font-weight="normal" >100</text>
<text transform="translate(192.0,328.8) rotate(-90)" font-size="8.4" text-anchor="middle" fill="#333333" textLength="68.5" lengthAdjust="spacingAndGlyphs" stroke="#333333" stroke-width="0.25">Clonal contributions (%)</text>
<rect x="231.9" y="347.50" width="29.0" height="17.80" fill="#c8102e"/>
<rect x="231.9" y="341.40" width="29.0" height="6.10" fill="#0f4c81"/>
<rect x="231.9" y="336.80" width="29.0" height="4.60" fill="#3aaa48"/>
<rect x="231.9" y="334.00" width="29.0" height="2.80" fill="#4a1d5e"/>
<rect x="231.9" y="332.30" width="29.0" height="1.70" fill="#f7941d"/>
<rect x="231.9" y="295.30" width="29.0" height="37.00" fill="#36a9e1"/>
<rect x="276.9" y="360.00" width="29.0" height="5.30" fill="#c8102e"/>
<rect x="276.9" y="356.10" width="29.0" height="3.90" fill="#0f4c81"/>
<rect x="276.9" y="353.00" width="29.0" height="3.10" fill="#3aaa48"/>
<rect x="276.9" y="351.00" width="29.0" height="2.00" fill="#4a1d5e"/>
<rect x="276.9" y="349.20" width="29.0" height="1.80" fill="#f7941d"/>
<rect x="276.9" y="295.30" width="29.0" height="53.90" fill="#36a9e1"/>
<line x1="216.1" y1="365.6" x2="321.3" y2="365.6" stroke="#222" stroke-width="1"/>
<line x1="246.3" y1="365.6" x2="246.3" y2="367.8" stroke="#222" stroke-width="0.8"/>
<line x1="290.9" y1="365.6" x2="290.9" y2="367.8" stroke="#222" stroke-width="0.8"/>
<text transform="translate(248.4,374.8) rotate(-45)" font-size="7.8" text-anchor="end" fill="#333333">LV-GFP</text>
<text transform="translate(290.2,376.0) rotate(-45)" font-size="7.8" text-anchor="end" fill="#333333">LV-GFP +</text>
<text transform="translate(296.8,382.2) rotate(-45)" font-size="7.8" text-anchor="end" fill="#333333">UM171</text>
<rect x="321.8" y="302.70" width="7.8" height="3.8" fill="#c8102e"/>
<text x="332.5" y="307.10" font-size="7.0" text-anchor="start" fill="#333333" font-weight="normal" >TOP1 Clone</text>
<rect x="321.8" y="312.50" width="7.8" height="3.8" fill="#0f4c81"/>
<text x="332.5" y="316.90" font-size="7.0" text-anchor="start" fill="#333333" font-weight="normal" >TOP2 Clone</text>
<rect x="321.8" y="322.30" width="7.8" height="3.8" fill="#3aaa48"/>
<text x="332.5" y="326.70" font-size="7.0" text-anchor="start" fill="#333333" font-weight="normal" >TOP3 Clone</text>
<rect x="321.8" y="332.10" width="7.8" height="3.8" fill="#4a1d5e"/>
<text x="332.5" y="336.50" font-size="7.0" text-anchor="start" fill="#333333" font-weight="normal" >TOP4 Clone</text>
<rect x="321.8" y="341.90" width="7.8" height="3.8" fill="#f7941d"/>
<text x="332.5" y="346.30" font-size="7.0" text-anchor="start" fill="#333333" font-weight="normal" >TOP5 Clone</text>
<rect x="321.8" y="351.70" width="7.8" height="3.8" fill="#36a9e1"/>
<text x="332.5" y="356.10" font-size="7.0" text-anchor="start" fill="#333333" font-weight="normal" >Rest clones</text>
<text x="386.6" y="267.0" font-size="10.8" text-anchor="start" fill="#000" font-weight="bold" >D</text>
<text x="443.6" y="280.5" font-size="8.5" text-anchor="start" fill="#222" font-weight="normal" >Diversity</text>
<line x1="408.6" y1="294.6" x2="408.6" y2="365.9" stroke="#222" stroke-width="0.9"/>
<line x1="405.9" y1="365.40" x2="408.6" y2="365.40" stroke="#222" stroke-width="0.8"/>
<text x="403.2" y="368.00" font-size="7.5" text-anchor="end" fill="#333333" font-weight="normal" >0</text>
<line x1="405.9" y1="341.96" x2="408.6" y2="341.96" stroke="#222" stroke-width="0.8"/>
<text x="403.2" y="344.56" font-size="7.5" text-anchor="end" fill="#333333" font-weight="normal" >2</text>
<line x1="405.9" y1="318.52" x2="408.6" y2="318.52" stroke="#222" stroke-width="0.8"/>
<text x="403.2" y="321.12" font-size="7.5" text-anchor="end" fill="#333333" font-weight="normal" >4</text>
<line x1="405.9" y1="295.08" x2="408.6" y2="295.08" stroke="#222" stroke-width="0.8"/>
<text x="403.2" y="297.68" font-size="7.5" text-anchor="end" fill="#333333" font-weight="normal" >6</text>
<text transform="translate(392.9,329.0) rotate(-90)" font-size="8.4" text-anchor="middle" fill="#333333" textLength="66" lengthAdjust="spacingAndGlyphs" stroke="#333333" stroke-width="0.25">Shannon diversity index</text>
<line x1="408.2" y1="365.5" x2="513.6" y2="365.5" stroke="#222" stroke-width="1"/>
<line x1="438.8" y1="365.5" x2="438.8" y2="367.7" stroke="#222" stroke-width="0.8"/>
<line x1="483.5" y1="365.5" x2="483.5" y2="367.7" stroke="#222" stroke-width="0.8"/>
<text transform="translate(440.8,374.8) rotate(-45)" font-size="7.8" text-anchor="end" fill="#333333">LV-GFP</text>
<text transform="translate(482.2,376.0) rotate(-45)" font-size="7.8" text-anchor="end" fill="#333333">LV-GFP +</text>
<text transform="translate(489.2,382.2) rotate(-45)" font-size="7.8" text-anchor="end" fill="#333333">UM171</text>
<path d="M438.8,306.8 L438.8,291.4 L483.7,291.4 L483.7,295.9" fill="none" stroke="#333" stroke-width="0.9"/>
<text x="461.2" y="291.2" font-size="7.2" text-anchor="middle" fill="#222" font-weight="normal" >**</text>
<line x1="438.7" y1="311" x2="438.7" y2="330.7" stroke="#c8202c" stroke-width="0.8"/>
<rect x="424.1" y="313.3" width="28.9" height="14.3" fill="#eea193"/>
<line x1="424.1" y1="320.7" x2="453" y2="320.7" stroke="#e0303c" stroke-width="1.4"/>
<line x1="431.8" y1="311" x2="445.6" y2="311" stroke="#c8202c" stroke-width="0.9"/>
<line x1="431.8" y1="330.7" x2="445.6" y2="330.7" stroke="#c8202c" stroke-width="0.9"/>
<circle cx="435.8" cy="311" r="1.45" fill="#b0102a"/>
<circle cx="441.2" cy="311" r="1.45" fill="#b0102a"/>
<circle cx="438.7" cy="315.3" r="1.45" fill="#b0102a"/>
<circle cx="435.8" cy="319.2" r="1.45" fill="#b0102a"/>
<circle cx="440.7" cy="322.2" r="1.45" fill="#b0102a"/>
<circle cx="438.7" cy="325.8" r="1.45" fill="#b0102a"/>
<circle cx="434.8" cy="330.7" r="1.45" fill="#b0102a"/>
<circle cx="440.2" cy="330.7" r="1.45" fill="#b0102a"/>
<line x1="483.7" y1="300.1" x2="483.7" y2="316.4" stroke="#1d3f70" stroke-width="0.8"/>
<rect x="469.1" y="303.3" width="28.9" height="7.4" fill="#93a9d2"/>
<line x1="469.1" y1="304.6" x2="498" y2="304.6" stroke="#2a5aa5" stroke-width="1.6"/>
<line x1="476.3" y1="300.1" x2="491.1" y2="300.1" stroke="#1d3f70" stroke-width="0.9"/>
<line x1="476.3" y1="316.4" x2="491.1" y2="316.4" stroke="#1d3f70" stroke-width="0.9"/>
<circle cx="477.8" cy="301.6" r="1.45" fill="#123a6a"/>
<circle cx="483.7" cy="300.1" r="1.45" fill="#123a6a"/>
<circle cx="488.6" cy="302.8" r="1.45" fill="#123a6a"/>
<circle cx="477.8" cy="305.8" r="1.45" fill="#123a6a"/>
<circle cx="489.1" cy="306.7" r="1.45" fill="#123a6a"/>
<circle cx="483.7" cy="303.3" r="1.45" fill="#123a6a"/>
<circle cx="483.7" cy="312.9" r="1.45" fill="#123a6a"/>
<circle cx="483.7" cy="316.4" r="1.45" fill="#123a6a"/>
</g>
<rect x="0.5" y="0.5" width="519" height="405" fill="none" stroke="#555" stroke-width="1"/>
</svg>
</body></html>
